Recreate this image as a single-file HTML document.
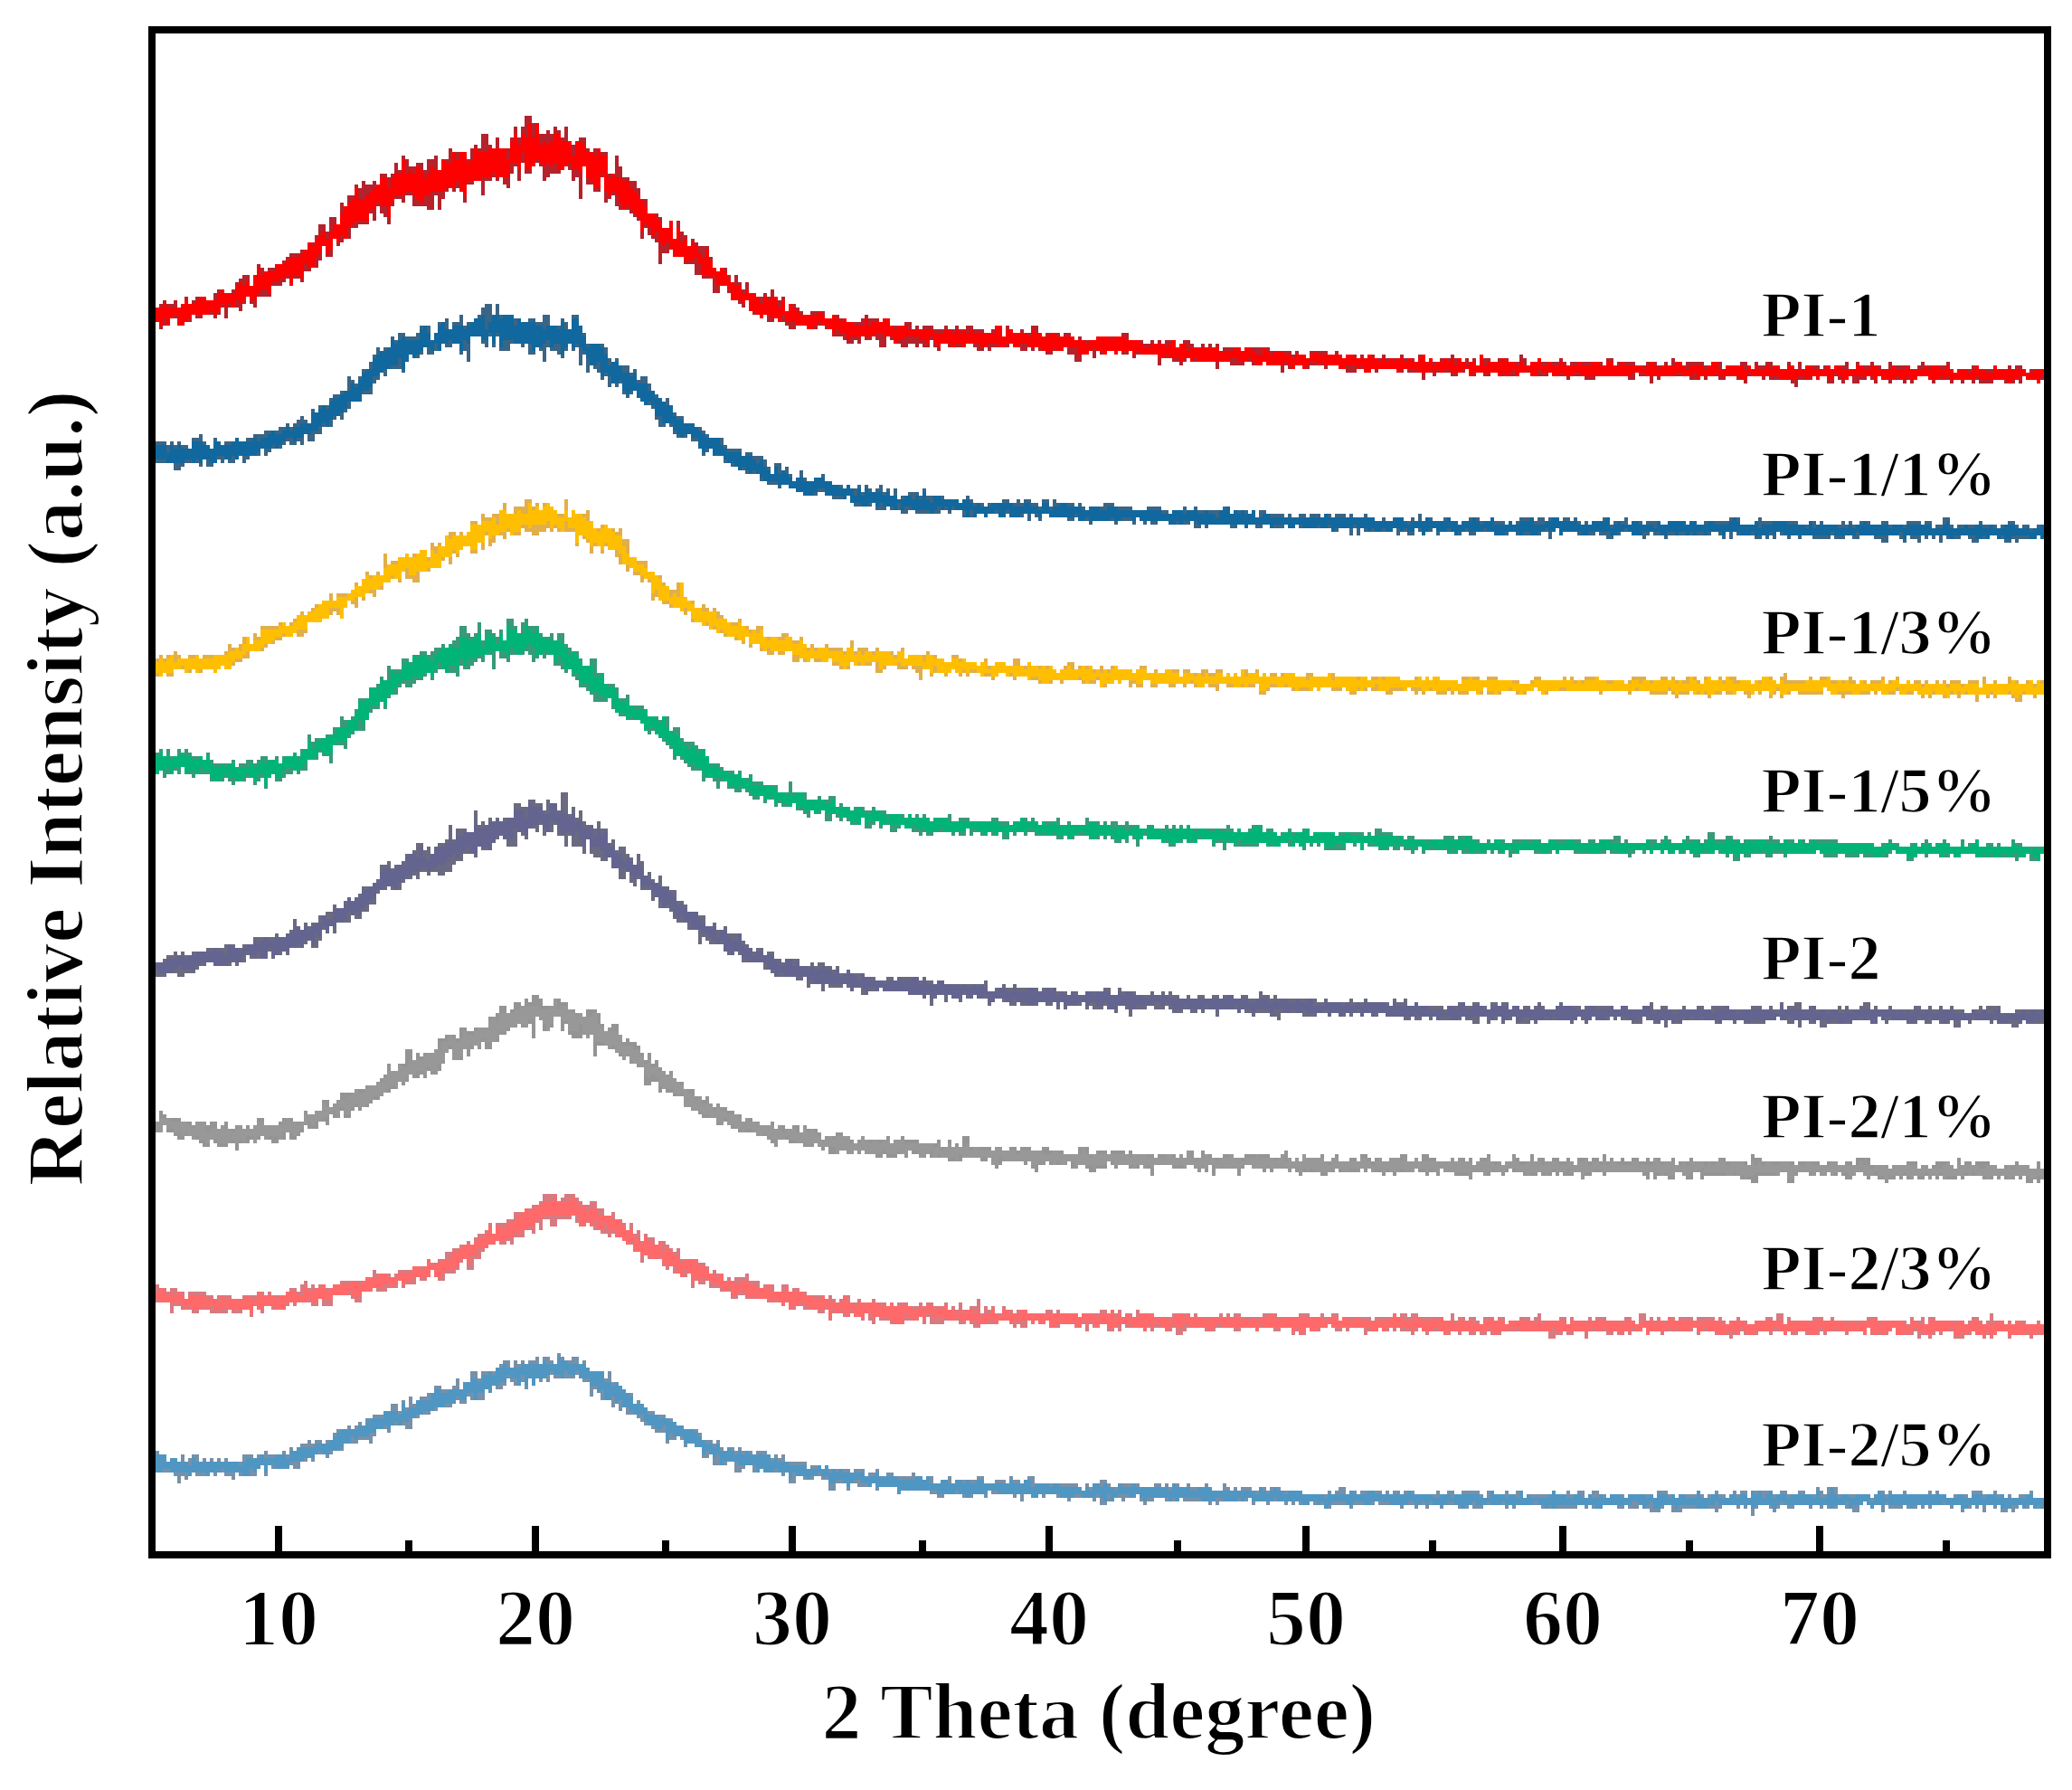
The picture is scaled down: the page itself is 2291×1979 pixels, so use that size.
<!DOCTYPE html>
<html><head><meta charset="utf-8"><title>XRD patterns</title>
<style>
html,body{margin:0;padding:0;background:#fff;}
body{width:2291px;height:1979px;overflow:hidden;}
svg{display:block;}
</style></head>
<body>
<svg width="2291" height="1979" viewBox="0 0 2291 1979">
<rect width="2291" height="1979" fill="#fff"/>
<g shape-rendering="crispEdges">
<path fill="#B4222C" d="M172 340h4v-4h4v-4h4v4h4h4v-4h4v8h4v-4h4v-8h4v8h4v-4h4v-4h4h4h4v4h4h4v-8h4v-4h4h4v4h4h4v-4h4v-8h4v-4h4v-4h4h4v12h4v-12h4v-12h4v4h4v4h4v-4h4h4v-4h4h4v-4h4v-4h4v-4h4h4h4v-4h4h4v-8h4h4v-8h4v-12h4h4v8h4v-16h4h4v8h4v-24h4v4h4v-12h4h4v-12h4v4h4v-8h4v4h4h4v-4h4v4h4v-12h4h4v4h4v-4h4v-12h4v8h4v-16h4v4h4v8h4h4v-4h4h4v8h4v-12h4h4v-4h4v16h4v-12h4h4v-12h4v4h4h4h4h4v8h4v-12h4v-4h4v4h4v-16h4h4v12h4v4h4v-12h4v12h4h4h4v-12h4v-12h4v12h4v-12h4v-12h4h4v8h4h4v12h4h4v-4h4v4h4v-8h4v4h4v8h4v-12h4v16h4v4h4v-4h4v-4h4h4v12h4v4h4v-4h4h4v4h4h4v24h4h4v-20h4v12h4v12h4h4v4h4h4v8h4v12h4h4v16h4h4h4v4h4v12h4h4v-8h4v20h4v-20h4v12h4v4h4v12h4v-8h4v4h4v4h4h4h4v12h4v12h4v4h4v-4h4h4v8h4v8h4v-8h4v8h4v8h4v-8h4v12h4h4v4h4h4v-4h4v4h4v-8h4v8h4v4h4v-4h4v16h4v-8h4h4v4h4v4h4v4h4h4v-4h4h4h4h4v8h4h4v-4h4h4v4h4h4v4h4h4h4h4v-4h4v-4h4v4h4h4h4v4h4v-4h4h4v8h4h4h4h4v-4h4h4v8h4v-4h4v4h4v-4h4h4h4v4h4h4h4v-4h4v4h4h4v-4h4v4h4h4v-4h4h4v4h4h4h4v4h4h4v-4h4v-4h4h4v12h4v-12h4v4h4v4h4h4v-4h4v4h4h4v-8h4h4v8h4v4h4v-4h4h4h4h4v4h4v-4h4h4v4h4v4h4v-4h4v4h4h4h4h4v-4h4h4h4h4h4h4h4v-4h4h4v8h4h4h4h4v4h4h4v-4h4v4h4v-4h4v4h4v-4h4h4h4v8h4v-4h4v-4h4h4v4h4v4h4h4v-4h4v4h4v-4h4v4h4v-4h4v8h4v-4h4h4h4h4h4v4h4v-4h4h4h4h4h4h4h4v4h4h4h4h4h4h4v4h4v-4h4v4h4h4v4h4v-8h4h4h4h4h4v4h4h4v-4h4v4h4v4h4v-4h4h4h4v4h4v-4h4v4h4v-4h4h4v4h4h4v-4h4v4h4h4h4h4v-4h4v4h4h4h4v4h4v-8h4h4v8h4v-4h4v4h4h4v-4h4h4h4v-4h4v4h4h4v4h4v-4h4v4h4v-4h4v8h4v-12h4v4h4h4v4h4h4v-4h4h4h4v4h4h4h4v-8h4v4h4v8h4v-4h4h4v-4h4v4h4h4h4h4h4v-4h4v4h4v4h4v-4h4h4h4h4h4h4h4h4h4v4h4v-8h4h4v8h4v-4h4h4h4h4h4v4h4h4h4v-4h4h4h4v4h4h4v-4h4v4h4v-8h4v4h4h4v4h4v-4h4h4h4h4h4v4h4h4v-4h4h4h4v8h4v-4h4h4h4h4v-4h4h4v4h4v4h4v-8h4v4h4h4v-4h4h4v4h4h4v4h4h4v-8h4v4h4v4h4v-8h4v8h4v-4h4h4h4h4v4h4v-4h4h4v4h4v-4h4h4h4v-4h4v8h4h4v-8h4v4h4h4h4v-4h4v4h4h4v4h4h4v-8h4v4h4h4h4h4h4v4h4h4v-4h4v-4h4v4h4h4h4h4h4h4v-4h4v8h4v4h4v-4h4h4h4h4v-4h4h4v4h4h4h4h4v-4h4v4h4h4h4v-4h4v4h4v-4h4h4v4h4v4h4v-4h4h4h4h4V420h-4v4h-4v-4h-4h-4h-4v-4h-4v8h-4v-4h-4v4h-4h-4h-4v-4h-4h-4h-4v4h-4h-4h-4h-4v-4h-4v4h-4v-4h-4h-4v4h-4v-4h-4h-4v4h-4v-4h-4h-4h-4h-4v4h-4v-4h-4v-4h-4h-4h-4v4h-4v4h-4v-4h-4v4h-4v-4h-4h-4h-4v4h-4v-4h-4h-4v-4h-4v8h-4v-4h-4v-4h-4v4h-4h-4v4h-4h-4v-8h-4v4h-4v4h-4v-4h-4v-4h-4v8h-4h-4v-8h-4h-4v4h-4v-4h-4v4h-4h-4h-4h-4v8h-4v-4h-4v-4h-4h-4h-4h-4h-4h-4v-4h-4v4h-4v-4h-4h-4h-4h-4v8h-4v-4h-4h-4v-4h-4h-4h-4v4h-4h-4v-4h-4h-4h-4v4h-4v-4h-4v4h-4h-4h-4v-4h-4h-4h-4h-4h-4h-4h-4h-4v4h-4v-4h-4v8h-4v-8h-4h-4h-4v-4h-4v8h-4h-4v-4h-4h-4h-4h-4h-4h-4h-4h-4h-4v4h-4h-4h-4v-4h-4h-4h-4h-4v4h-4v-4h-4h-4h-4h-4v-4h-4v4h-4h-4h-4h-4h-4v-4h-4h-4h-4v4h-4h-4h-4h-4h-4h-4v-4h-4h-4v4h-4h-4v-4h-4h-4v4h-4h-4v-8h-4v4h-4h-4v4h-4h-4v-4h-4h-4h-4h-4v4h-4v-4h-4h-4v8h-4v-8h-4h-4h-4h-4v-4h-4v4h-4h-4v-4h-4h-4h-4h-4h-4v4h-4v-4h-4v4h-4h-4v-4h-4h-4v4h-4h-4h-4v-4h-4h-4v-4h-4h-4h-4v4h-4v-4h-4h-4h-4h-4v4h-4h-4v-4h-4h-4v4h-4h-4v-4h-4v8h-4v-8h-4h-4h-4h-4v-4h-4v4h-4h-4h-4v-4h-4h-4v4h-4h-4h-4h-4v-4h-4h-4h-4v8h-4v-8h-4h-4h-4h-4h-4h-4h-4v-4h-4v4h-4v4h-4v-4h-4h-4v-4h-4h-4h-4v8h-4v-12h-4h-4h-4h-4h-4h-4v4h-4v-8h-4v4h-4h-4v-4h-4v4h-4v-4h-4h-4v4h-4h-4v-4h-4v8h-4v-8h-4v4h-4h-4v8h-4h-4v-8h-4h-4v-8h-4v4h-4h-4h-4v4h-4h-4v-4h-4h-4v-4h-4v4h-4v-4h-4v4h-4h-4v-4h-4h-4v-4h-4v4h-4h-4h-4h-4h-4v4h-4v-4h-4v4h-4h-4v-4h-4v-4h-4h-4v4h-4h-4h-4h-4h-4v-4h-4h-4v8h-4v-4h-4v-8h-4v8h-4h-4v-4h-4v4h-4v-4h-4h-4v4h-4h-4v-4h-4h-4v-4h-4v-4h-4v12h-4h-4v-8h-4v-4h-4v4h-4h-4v-4h-4v8h-4v-4h-4v4h-4h-4v-4h-4v-4h-4h-4h-4v-8h-4h-4v-4h-4h-4v4h-4h-4h-4v-4h-4h-4h-4v4h-4h-4v-4h-4v-4h-4h-4v-4h-4v4h-4h-4v-8h-4v4h-4v-4h-4h-4v-4h-4v-12h-4v8h-4v-4h-4v-4h-4h-4v-8h-4v-8h-4h-4v8h-4h-4v-16h-4h-4h-4v-4h-4h-4v-12h-4h-4h-4v-8h-4h-4h-4v-8h-4v4h-4h-4v12h-4v-24h-4v-4h-4v-4h-4v-8h-4v12h-4v-20h-4v-4h-4v-4h-4v-4h-4h-4h-4v-4h-4v-12h-4v4h-4v4h-4v-28h-4v16h-4h-4v-8h-4h-4v-20h-4v36h-4v-24h-4v4h-4v-12h-4v-4h-4v4h-4v4h-4h-4h-4v4h-4v4h-4v-16h-4v-4h-4v4h-4v8h-4h-4v-12h-4v20h-4v-16h-4v8h-4v16h-4v-4h-4v-8h-4v4h-4v-4h-4v4h-4h-4v16h-4v-16h-4h-4v4h-4h-4v20h-4v-12h-4v-4h-4v4h-4v-4h-4v4h-4v8h-4v12h-4v-16h-4v16h-4h-4v-4h-4h-4h-4h-4v-12h-4h-4v8h-4v-4h-4h-4v8h-4v20h-4v-8h-4v-4h-4v-8h-4v16h-4v-8h-4v12h-4h-4h-4v4h-4h-4v12h-4h-4v4h-4v4h-4v-8h-4v20h-4h-4v-12h-4v16h-4v8h-4h-4v4h-4h-4v12h-4v-4h-4h-4v8h-4v-8h-4v4h-4v4h-4h-4h-4v12h-4h-4h-4h-4v12h-4v-4h-4v-8h-4v8h-4v8h-4v-4h-4h-4h-4v12h-4v-12h-4v8h-4v4h-4v-4h-4h-4h-4v4h-4h-4v-4h-4v8h-4h-4v4h-4h-4v-8h-4h-4v8h-4h-4v4h-4v-8h-4z"/>
<path fill="#FF0000" d="M172 340h4h4v-4h4v4h4h4h4h4v-4h4v-4h4v4h4h4v-4h4v-4h4h4v4h4h4h4v-8h4v-4h4v4h4h4h4v-8h4v-4h4v4h4v-4h4v4h4v-12h4v-8h4v8h4v-4h4h4h4v-8h4h4h4v-4h4v-4h4h4h4v-4h4v-4h4v-8h4v4h4v-8h4v-4h4v-4h4v8h4v-8h4v-8h4h4v-12h4v-8h4v-4h4v-4h4v-12h4v12h4h4v-4h4v-4h4v-4h4v-4h4v-8h4h4v12h4v-12h4v-4h4h4v-16h4v16h4v-4h4v4h4v-8h4v4h4v8h4v-4h4v-8h4v4h4h4v-12h4v4h4h4v-12h4v8h4v-8h4h4v12h4v-4h4v-12h4v4h4h4h4v-4h4h4h4h4h4v12h4v-20h4v-8h4v12h4v-12h4v4h4v-16h4v16h4v-16h4v24h4v-4h4v4h4v-4h4v-8h4h4v8h4h4h4v16h4v-16h4h4v4h4v8h4h4v4h4v-8h4v8h4h4v24h4v-4h4v4h4h4v4h4h4v8h4v4h4v4h4v4h4v8h4v8h4h4v4h4v4h4v8h4h4v-8h4v20h4v-12h4v16h4v-4h4v8h4v-4h4v4h4v8h4v4h4v-8h4v12h4v8h4v4h4v-4h4v4h4v8h4v4h4v4h4h4v8h4v-4h4v4h4h4v4h4v8h4v-8h4v4h4v-4h4h4v12h4v-8h4v12h4v-8h4v4h4v4h4v4h4h4h4h4h4v-4h4v4h4v4h4h4v-4h4v4h4v4h4v-4h4v4h4h4v4h4h4h4v-8h4v8h4v-4h4h4h4v-4h4h4v8h4v4h4v-4h4h4h4v4h4h4h4h4h4h4h4v4h4h4h4v-4h4h4v4h4v-4h4v4h4v-4h4v4h4v-4h4v4h4h4h4h4h4h4v-8h4h4v12h4v-8h4h4v4h4h4h4h4v4h4v-8h4v4h4h4v4h4h4v-4h4h4v4h4h4h4h4h4v4h4h4h4v4h4v-4h4h4v-4h4h4h4h4v4h4v-4h4h4h4v4h4h4h4h4v4h4v4h4h4v-4h4h4h4h4v4h4v-4h4v-4h4v8h4v-4h4h4v8h4v-4h4h4h4h4h4h4h4h4v4h4h4h4h4v-4h4h4v4h4v-4h4h4v4h4v4h4h4v-8h4v4h4v4h4v-4h4h4h4v4h4h4v4h4v-4h4h4h4v4h4v-4h4v-4h4v4h4h4h4h4h4h4h4v4h4v-4h4h4v4h4h4h4h4v-4h4v4h4h4v4h4v-4h4v4h4v-4h4v4h4v-4h4h4v4h4v-4h4v4h4h4v-4h4v-4h4v8h4v-4h4v8h4v-4h4h4v-4h4v4h4v-4h4v8h4v-8h4v4h4v4h4v-4h4h4v4h4v-12h4v12h4v-4h4h4h4h4v-4h4v4h4h4h4v4h4v-4h4v4h4h4v-4h4h4v-4h4v8h4h4v-4h4v4h4h4v-4h4v4h4h4h4h4v-4h4v4h4h4h4v-4h4h4v4h4h4v-4h4h4v4h4h4v-4h4v4h4h4h4h4h4v4h4v-4h4v-4h4v4h4v4h4v-4h4h4h4h4v-4h4h4v4h4v4h4v-4h4h4h4h4v4h4v-4h4v-4h4h4v8h4h4v-4h4h4h4h4h4v4h4v-4h4v4h4v-4h4v4h4h4v-4h4v4h4v-4h4h4v4h4h4v-4h4h4v4h4h4h4v-4h4h4v4h4h4h4h4v-4h4v4h4v-4h4h4v4h4h4h4h4v-4h4h4v4h4h4v-4h4h4v4h4h4h4h4v-4h4v4h4h4h4v-4h4v4h4h4h4h4v-4h4v4h4v-4h4h4v4h4h4v-4h4v4h4v4h4v-4h4h4h4v4h4v-4h4v-4h4v4h4h4v4h4h4v-8h4v4h4h4h4h4h4h4h4h4v4h4h4v-4h4h4h4V416h-4v8h-4v-4h-4h-4h-4v-4h-4h-4v4h-4h-4v4h-4v-4h-4h-4h-4h-4h-4h-4h-4h-4v-4h-4v4h-4h-4h-4h-4h-4h-4h-4v-4h-4v4h-4v-4h-4v4h-4h-4h-4v-4h-4h-4h-4v4h-4h-4v-4h-4v4h-4h-4v-4h-4v4h-4h-4h-4h-4v-4h-4v4h-4v-4h-4h-4h-4h-4h-4h-4h-4v4h-4h-4v-4h-4v-4h-4v8h-4h-4v-4h-4h-4v4h-4v-4h-4h-4v4h-4v-4h-4h-4v4h-4h-4h-4h-4h-4v-4h-4h-4h-4h-4h-4h-4h-4h-4v-4h-4v8h-4h-4v-4h-4h-4h-4h-4h-4h-4v-4h-4v4h-4h-4h-4h-4v4h-4v-8h-4v4h-4h-4h-4v-4h-4h-4v4h-4h-4h-4h-4h-4h-4h-4h-4v-4h-4h-4h-4h-4v4h-4h-4h-4h-4h-4h-4h-4h-4h-4h-4h-4h-4h-4h-4v-4h-4h-4v4h-4h-4h-4v-4h-4v4h-4h-4v-4h-4h-4h-4v-4h-4v8h-4h-4v-8h-4v4h-4h-4v4h-4v-8h-4v4h-4v4h-4v-4h-4v4h-4v-4h-4h-4h-4h-4h-4h-4h-4v4h-4v-8h-4h-4v4h-4h-4h-4v-4h-4h-4v4h-4v-4h-4v4h-4v-4h-4v4h-4h-4h-4v-4h-4h-4h-4h-4h-4v4h-4v-4h-4h-4h-4h-4h-4h-4h-4v4h-4h-4v-8h-4v4h-4v-4h-4h-4h-4v4h-4h-4v-4h-4h-4h-4h-4v-4h-4v4h-4v-4h-4h-4v4h-4v4h-4v-4h-4h-4v4h-4v-4h-4v-4h-4v4h-4h-4h-4h-4h-4v-4h-4v4h-4h-4v-4h-4v-4h-4v4h-4h-4h-4v-4h-4h-4v4h-4h-4h-4h-4h-4h-4h-4h-4h-4v-4h-4v4h-4v-4h-4h-4v4h-4v-4h-4h-4h-4v-4h-4v4h-4h-4v-4h-4h-4h-4h-4h-4v-4h-4v4h-4v-4h-4h-4h-4h-4v4h-4v-4h-4h-4v4h-4v-4h-4h-4v-4h-4v4h-4v4h-4h-4h-4v-8h-4h-4h-4h-4v4h-4h-4v-4h-4v4h-4h-4h-4v-4h-4h-4h-4h-4v-4h-4h-4v4h-4h-4v-4h-4h-4v4h-4h-4v-4h-4h-4h-4v4h-4h-4v-4h-4h-4h-4h-4v4h-4v-4h-4h-4v4h-4v-4h-4h-4h-4v4h-4v-4h-4v-8h-4v8h-4v-4h-4h-4v-4h-4h-4h-4h-4v4h-4h-4v4h-4v-8h-4h-4h-4v-4h-4h-4v4h-4h-4h-4h-4h-4h-4h-4v4h-4v-8h-4h-4v-4h-4v4h-4v-4h-4v-4h-4h-4v-4h-4v4h-4v4h-4h-4v-4h-4h-4h-4v-4h-4h-4h-4v-8h-4v8h-4v-4h-4h-4v-4h-4h-4v4h-4v-4h-4v-4h-4h-4v-12h-4v4h-4v-4h-4h-4h-4v-12h-4v-4h-4h-4h-4v-12h-4v4h-4v-4h-4h-4v-12h-4v-8h-4v4h-4h-4h-4v-4h-4h-4h-4v-8h-4v-8h-4v4h-4v-4h-4v-12h-4v4h-4v-8h-4v-4h-4v8h-4v-16h-4v-4h-4v-4h-4v-4h-4v4h-4v-8h-4v-8h-4v-4h-4v4h-4v-4h-4v-20h-4v16h-4h-4v-8h-4v-4h-4v-12h-4v8h-4v-4h-4h-4v-8h-4v4h-4v4h-4h-4v-8h-4v4h-4v-4h-4v4h-4v-4h-4v-4h-4v8h-4v4h-4h-4v-20h-4v20h-4v-8h-4h-4v16h-4h-4h-4h-4v-4h-4v4h-4h-4h-4v4h-4h-4h-4h-4v16h-4v-4h-4v-12h-4v8h-4h-4h-4v4h-4h-4h-4h-4v4h-4h-4v8h-4v-4h-4v-4h-4v-4h-4h-4v4h-4h-4h-4v8h-4v16h-4v-12h-4h-4v-4h-4v8h-4h-4v12h-4h-4h-4h-4v4h-4v4h-4v12h-4v-4h-4v8h-4v-4h-4v12h-4v4h-4v-8h-4v8h-4v4h-4v12h-4h-4v-4h-4v16h-4v-4h-4h-4v12h-4v-12h-4v4h-4h-4v4h-4h-4v12h-4v-4h-4h-4v4h-4v8h-4h-4v-4h-4v4h-4v4h-4v-4h-4v8h-4v-4h-4v4h-4v-4h-4v8h-4v4h-4v-4h-4v4h-4h-4h-4h-4h-4v4h-4v4h-4v4h-4h-4v-12h-4v4h-4v8h-4v-8h-4v8h-4v-4h-4z"/>
<path fill="#3A6585" d="M172 488h4h4h4v4h4v-4h4v4h4v-4h4v4h4h4v4h4v-12h4h4v-4h4v8h4v4h4v4h4v-12h4v4h4v4h4v-4h4h4h4v-4h4v4h4h4v-4h4h4v-4h4h4h4v-4h4h4h4h4v-4h4h4v-4h4v4h4v-4h4v-4h4v-4h4v4h4v4h4v-16h4v4h4v-8h4h4h4v-8h4v-4h4h4v-4h4h4v-16h4v4h4v4h4v-8h4v-8h4h4v-8h4v-8h4v-8h4v4h4v-4h4h4v-12h4v4h4v-8h4h4v4h4h4h4v-4h4v-8h4h4h4v16h4v-8h4v-12h4h4v-4h4v12h4v-8h4h4v-8h4v12h4v-4h4h4v-4h4v-4h4v-8h4v-4h4h4v12h4v-12h4v12h4h4h4h4v4h4h4v4h4h4v-4h4h4v4h4h4v-8h4h4v12h4h4h4v-8h4v4h4v8h4v-16h4h4v12h4v8h4v12h4h4h4h4h4v4h4v12h4v4h4v-4h4v8h4h4h4v8h4v-4h4v12h4v-4h4h4v8h4v8h4v4h4v4h4v4h4v-4h4v8h4v8h4v4h4h4v8h4h4h4v4h4h4v4h4v4h4v4h4h4h4h4v8h4v4h4h4h4h4v8h4v-4h4h4v4h4h4h4v4h4v8h4v8h4v-12h4h4v8h4v-4h4v8h4v8h4v-4h4v-8h4v8h4v4h4h4v-4h4h4v-4h4v8h4h4v4h4h4h4v4h4v-4h4v4h4h4v-4h4v8h4v-8h4v4h4v4h4v-4h4v-4h4v8h4v-4h4v8h4v-8h4v12h4v-4h4h4v-4h4h4h4v4h4v-8h4v8h4h4h4h4h4v4h4h4h4h4v4h4v-4h4v-4h4v4h4v4h4h4h4v4h4v-4h4h4h4h4v-4h4h4v4h4h4v-4h4v4h4v-4h4h4v4h4h4v4h4v-8h4h4v8h4v-8h4v4h4h4h4h4h4v4h4v-4h4v4h4v4h4v-4h4h4h4h4v-4h4h4h4v4h4h4h4h4h4v4h4h4h4h4v-4h4h4h4h4v4h4h4v4h4v-4h4h4h4v-4h4v4h4h4v-4h4v4h4h4h4h4h4h4h4v-4h4h4v8h4v-4h4h4h4h4v4h4v-4h4v8h4v-8h4h4v4h4h4h4h4h4v4h4v-4h4v4h4h4v-4h4h4v4h4v-4h4h4h4v4h4v-4h4h4v4h4v-4h4h4h4v4h4v-4h4v4h4h4h4v-4h4v4h4h4v4h4h4v-4h4v4h4h4v-4h4h4h4v4h4h4v-4h4v4h4v-8h4v8h4v-4h4h4v4h4h4h4v-4h4h4v4h4h4v4h4v-4h4h4v-4h4h4h4v4h4h4h4v-4h4v4h4h4h4v4h4v-4h4v4h4v-4h4v-4h4h4h4h4v4h4v-4h4h4v4h4v-4h4h4h4v4h4v-4h4h4v4h4v-4h4v4h4v4h4v-4h4v4h4v-4h4h4h4v-4h4h4v8h4v-4h4h4h4v-4h4v8h4v-4h4h4h4v4h4v-4h4h4h4h4v4h4h4v-4h4h4h4h4h4v4h4v-4h4h4v4h4h4v-4h4h4h4h4h4h4h4v-4h4h4h4v8h4h4h4h4v-4h4v-4h4v4h4h4h4h4h4h4h4h4h4h4v4h4h4h4v-4h4h4v4h4v-4h4v4h4h4h4h4h4v-4h4v4h4v-4h4v4h4h4v-4h4h4h4v4h4h4h4v-4h4h4v4h4h4h4h4h4v-4h4h4h4h4v4h4v-4h4h4v8h4v-4h4h4v-8h4h4v8h4v4h4v-4h4h4h4h4h4h4v-4h4v4h4h4h4h4v4h4v-4h4h4v-4h4h4v4h4v4h4v-4h4h4v4h4h4v-4h4h4V596h-4v-4h-4v4h-4h-4h-4h-4h-4v4h-4v-4h-4v4h-4h-4v-4h-4h-4v-4h-4h-4v4h-4h-4h-4v4h-4h-4v-4h-4v-4h-4h-4v4h-4h-4h-4h-4v-4h-4v8h-4v-8h-4v4h-4v-4h-4v4h-4v-4h-4v8h-4v-4h-4h-4v-4h-4v8h-4v-4h-4v-4h-4h-4h-4v8h-4h-4v-4h-4h-4v-4h-4h-4h-4h-4v4h-4h-4v-4h-4h-4v4h-4h-4h-4v-4h-4v4h-4h-4h-4h-4h-4v-4h-4h-4h-4v4h-4v-4h-4h-4v4h-4v-4h-4h-4v-4h-4v8h-4v-4h-4v4h-4v-4h-4v4h-4h-4v-4h-4h-4h-4h-4h-4v-4h-4v8h-4v-8h-4v8h-4v-4h-4v-4h-4h-4v4h-4h-4h-4h-4h-4h-4h-4h-4h-4h-4h-4h-4v4h-4v-4h-4h-4h-4v-4h-4v4h-4v4h-4v-4h-4h-4h-4v-4h-4h-4h-4v4h-4h-4v4h-4h-4v-4h-4h-4v-4h-4v4h-4h-4h-4h-4h-4v-4h-4h-4h-4h-4v4h-4v-8h-4v4h-4v8h-4v-8h-4h-4v4h-4h-4h-4h-4h-4h-4h-4v-4h-4h-4v4h-4h-4h-4h-4v-4h-4h-4h-4h-4h-4v4h-4h-4v-4h-4h-4v4h-4h-4v-4h-4h-4h-4h-4v4h-4v-8h-4v4h-4h-4v4h-4v-4h-4v-4h-4v8h-4h-4v-4h-4h-4v4h-4v-8h-4v4h-4h-4h-4h-4h-4h-4h-4h-4v-4h-4v8h-4v-8h-4v8h-4v-8h-4h-4h-4v4h-4h-4v-4h-4h-4h-4h-4h-4h-4h-4h-4h-4v-4h-4v4h-4h-4v-4h-4v4h-4h-4h-4h-4v-4h-4h-4v4h-4h-4v-4h-4h-4v4h-4v-4h-4h-4v4h-4h-4v-4h-4h-4h-4h-4h-4h-4v4h-4v-4h-4v4h-4h-4v-8h-4v4h-4h-4h-4h-4h-4h-4v-4h-4h-4h-4v4h-4h-4v-4h-4v4h-4v-4h-4v-4h-4v8h-4v-4h-4h-4h-4h-4v4h-4v-4h-4h-4h-4h-4h-4h-4v4h-4v-4h-4h-4h-4v-4h-4v4h-4h-4v-4h-4h-4h-4h-4h-4v-4h-4h-4v8h-4v-4h-4v-4h-4v8h-4v-8h-4v4h-4h-4h-4h-4v-4h-4v4h-4h-4v-4h-4h-4h-4v4h-4v-4h-4h-4v4h-4h-4h-4h-4v-8h-4h-4h-4v4h-4v-4h-4h-4v4h-4h-4h-4h-4h-4h-4h-4v-4h-4h-4v4h-4h-4v-4h-4h-4h-4v-4h-4v4h-4h-4h-4v-8h-4v4h-4h-4h-4h-4h-4v-4h-4v-8h-4v4h-4h-4h-4h-4v-4h-4h-4v-4h-4h-4v4h-4h-4h-4h-4v-4h-4h-4v-4h-4h-4v-4h-4h-4v4h-4v-4h-4h-4h-4v-4h-4h-4v-8h-4h-4h-4h-4v-4h-4h-4v-4h-4h-4v-4h-4h-4v-8h-4h-4h-4v-8h-4v4h-4v4h-4v-8h-4v-8h-4h-4v-8h-4v4h-4h-4h-4v-4h-4v-8h-4v-4h-4v4h-4h-4v-8h-4v-12h-4v-4h-4h-4v-4h-4v-4h-4v-8h-4v4h-4v4h-4v-4h-4v-12h-4v4h-4v-4h-4v4h-4v-12h-4v4h-4v-8h-4v-4h-4v-4h-4v8h-4v-20h-4v12h-4v-20h-4v4h-4v-8h-4v8h-4v8h-4v-4h-4v-4h-4h-4v-4h-4v16h-4v-12h-4v-4h-4v8h-4h-4v-12h-4v4h-4v-4h-4h-4h-4v8h-4h-4h-4v-16h-4v12h-4v-12h-4v12h-4v-4h-4v-8h-4h-4h-4v28h-4v-12h-4v4h-4v-12h-4h-4v4h-4h-4v-4h-4v8h-4h-4v4h-4h-4v-8h-4v8h-4v4h-4h-4v-4h-4v8h-4v12h-4v-4h-4h-4h-4h-4v8h-4v-4h-4v8h-4v4h-4v12h-4h-4h-4v8h-4h-4h-4v8h-4v4h-4v8h-4v-4h-4v4h-4v8h-4h-4h-4v8h-4h-4v8h-4h-4v-8h-4v12h-4v-4h-4v4h-4h-4v-4h-4v4h-4v4h-4h-4h-4v4h-4v4h-4v-8h-4v8h-4h-4h-4v4h-4v4h-4v-8h-4v4h-4v4h-4h-4v-4h-4v4h-4v-4h-4v4h-4v4h-4h-4v-8h-4v8h-4v-4h-4h-4h-4h-4v4h-4v4h-4h-4v-8h-4h-4h-4h-4h-4z"/>
<path fill="#10689E" d="M172 492h4h4h4v8h4v-8h4v4h4v-4h4v4h4h4h4v-8h4h4h4v4h4h4v4h4v-8h4h4v4h4h4h4v-4h4v-4h4v4h4h4h4h4v-4h4v4h4v-4h4h4v-4h4v-4h4v4h4h4v-4h4v-4h4v4h4v-4h4h4v-4h4h4h4v-12h4h4v-4h4v-4h4v4h4v-8h4v-4h4h4v-4h4v-4h4h4v-8h4v4h4v-8h4v-8h4v-4h4h4v-12h4v-4h4v-4h4h4v-4h4v-8h4v4h4v-4h4v-4h4v4h4h4h4h4v-12h4v-4h4v8h4v8h4v-8h4v-8h4v-4h4v8h4h4v-4h4h4h4v4h4v-4h4v-4h4v-4h4h4v-4h4v16h4v-8h4v-8h4h4v4h4v-4h4h4h4v12h4v-8h4v4h4h4h4h4v4h4h4v4h4v-4h4h4h4v4h4v-8h4v8h4h4v-12h4h4v8h4v12h4v12h4v-4h4h4h4v4h4v8h4v12h4v-4h4h4v4h4v8h4h4v4h4v-4h4v12h4h4h4v8h4h4v8h4h4v4h4v4h4h4v12h4v4h4h4v4h4h4h4v4h4v4h4v4h4v4h4h4h4h4v8h4v4h4v4h4h4h4h4v4h4h4h4v4h4v4h4v-4h4v8h4v4h4v4h4v-8h4v8h4v-4h4v4h4v4h4v4h4v-4h4h4v4h4h4h4v-4h4h4h4v4h4h4v4h4h4v4h4h4v-4h4v4h4v8h4v-8h4v8h4v-8h4v4h4h4h4h4v4h4v-4h4v4h4h4v4h4h4v-4h4h4v4h4v-4h4v4h4v-8h4v8h4v4h4v-8h4h4v4h4h4h4h4h4v4h4v-4h4h4v4h4v4h4v-4h4v4h4h4h4v-4h4h4h4h4h4h4v4h4h4h4v-4h4h4v4h4h4v4h4v-8h4h4v8h4v-4h4h4v-4h4h4v4h4h4h4h4v4h4h4v-4h4h4h4v4h4h4v-4h4h4h4v4h4h4h4h4h4h4h4h4h4h4h4h4v4h4h4h4v-4h4h4h4v4h4v-4h4h4h4v4h4h4v-4h4v4h4h4v4h4v-8h4h4v-4h4v8h4v-4h4v4h4v-4h4v4h4h4v-4h4v8h4h4v-4h4h4v4h4h4h4h4h4h4h4h4h4h4h4h4h4h4h4v-4h4v4h4h4h4h4h4h4h4h4h4h4h4h4h4v4h4h4h4h4h4v-4h4h4h4v4h4v4h4v-4h4h4h4h4v-4h4v4h4h4h4h4h4v-4h4v4h4h4v4h4v-4h4h4h4v-4h4v4h4v4h4v-4h4h4v-4h4v8h4h4h4h4v-4h4v4h4h4v-4h4h4h4v-4h4v8h4h4h4v-4h4h4v-4h4h4v4h4h4h4h4h4v4h4h4h4h4v-4h4h4h4h4v-4h4v12h4v-4h4v-4h4v4h4h4h4v-4h4h4v4h4h4h4h4v4h4v-8h4v4h4h4v-4h4h4h4h4h4v4h4v-4h4h4v4h4h4h4v-4h4h4v4h4h4h4h4v-4h4v-4h4v4h4v4h4h4h4h4v-4h4v8h4v-4h4h4h4v-4h4h4h4h4v4h4h4h4h4h4v4h4v-8h4v8h4v-4h4h4h4h4h4h4v4h4h4h4v-4h4v4h4v-4h4h4v-4h4v4h4h4h4h4h4h4v4h4v-4h4h4h4v4h4v-4h4h4h4h4h4h4h4v4h4h4h4v-4h4v-4h4v8h4h4h4h4v-4h4v4h4h4v-4h4h4v4h4h4v-4h4v4h4h4h4v-4h4h4h4v4h4h4h4h4v4h4v-4h4h4v-4h4V596h-4v-4h-4v4h-4h-4v-4h-4h-4h-4h-4h-4v4h-4h-4v-4h-4v4h-4v-4h-4h-4v4h-4v-4h-4v4h-4h-4v-4h-4h-4h-4h-4h-4h-4v4h-4v-4h-4h-4h-4h-4h-4h-4h-4h-4h-4h-4h-4h-4v4h-4v-8h-4v4h-4h-4h-4h-4h-4h-4h-4h-4h-4h-4h-4v-4h-4v4h-4h-4h-4h-4h-4h-4v-4h-4v4h-4h-4h-4h-4h-4h-4h-4h-4h-4h-4h-4h-4h-4v-4h-4h-4v4h-4v-4h-4v4h-4h-4h-4h-4v-4h-4v4h-4h-4h-4v-4h-4h-4h-4h-4v4h-4v-4h-4h-4h-4h-4v4h-4v-4h-4h-4v4h-4v-4h-4v4h-4v-4h-4h-4v4h-4v-4h-4h-4v4h-4h-4v-4h-4h-4h-4h-4h-4v4h-4h-4h-4v-4h-4v-4h-4v4h-4h-4v4h-4h-4v-4h-4h-4h-4h-4h-4h-4v4h-4h-4v-4h-4h-4h-4h-4h-4v4h-4v-8h-4v4h-4h-4v-4h-4v4h-4h-4v4h-4h-4v-4h-4h-4v4h-4v-4h-4h-4h-4h-4v4h-4h-4h-4v-4h-4h-4v-4h-4v4h-4h-4h-4h-4v-4h-4v4h-4h-4v4h-4v-4h-4v-4h-4v4h-4h-4h-4v-4h-4h-4v4h-4v4h-4v-8h-4h-4v4h-4h-4v-4h-4v4h-4v-4h-4h-4v4h-4h-4v-4h-4v4h-4h-4v-4h-4v4h-4v-4h-4h-4h-4v-4h-4v4h-4h-4h-4h-4h-4v4h-4v-8h-4v4h-4h-4v-4h-4v4h-4h-4h-4h-4v-4h-4h-4v4h-4h-4v-4h-4h-4h-4h-4v4h-4v-4h-4h-4h-4h-4h-4h-4v4h-4v-4h-4h-4h-4h-4h-4h-4h-4h-4h-4h-4h-4h-4h-4v-4h-4h-4h-4h-4v4h-4v-4h-4v4h-4h-4v-4h-4h-4h-4h-4h-4h-4h-4h-4v-4h-4v4h-4v-4h-4h-4h-4v4h-4h-4v-4h-4v4h-4h-4h-4h-4h-4h-4v-4h-4v4h-4h-4v-8h-4v4h-4h-4h-4h-4h-4h-4h-4v-4h-4h-4v4h-4v-4h-4h-4h-4h-4h-4v4h-4h-4h-4v-8h-4v8h-4h-4v-8h-4v4h-4h-4v4h-4v-4h-4h-4v4h-4v-8h-4v8h-4v-8h-4h-4h-4v-4h-4v4h-4v-4h-4v4h-4v-4h-4v4h-4v4h-4v-4h-4h-4h-4h-4h-4v-4h-4h-4v4h-4v-8h-4v8h-4v-4h-4h-4h-4v-4h-4v4h-4v-4h-4h-4v4h-4h-4v-4h-4h-4h-4v-8h-4v4h-4v-4h-4h-4h-4h-4h-4v-8h-4h-4v4h-4v4h-4h-4h-4v-4h-4h-4v-4h-4h-4v-4h-4h-4h-4v-4h-4h-4h-4h-4v-4h-4v-4h-4v-4h-4v4h-4v-4h-4v-4h-4v4h-4v-4h-4v-4h-4h-4v-4h-4v-4h-4h-4h-4v-8h-4h-4v4h-4v-4h-4v-12h-4h-4v-4h-4h-4v4h-4v-4h-4v-4h-4v-8h-4h-4h-4v-8h-4h-4v-12h-4v-4h-4v4h-4v-4h-4v-4h-4v-8h-4h-4v4h-4v-4h-4v-12h-4v4h-4h-4v-8h-4v-4h-4v4h-4v-16h-4v4h-4h-4v-8h-4v-8h-4v-4h-4v-4h-4v4h-4v-4h-4v4h-4v8h-4v-12h-4h-4v4h-4v-8h-4v4h-4v4h-4h-4v4h-4v-8h-4h-4h-4h-4h-4v-4h-4h-4h-4v8h-4v-16h-4v12h-4v-12h-4v8h-4h-4v-4h-4h-4h-4v8h-4v-4h-4v12h-4v-8h-4h-4v-4h-4v4h-4h-4v8h-4v-8h-4v8h-4v-4h-4h-4v4h-4v4h-4v4h-4v-4h-4v8h-4v8h-4v-12h-4v8h-4h-4v4h-4h-4v4h-4v4h-4h-4v12h-4v4h-4h-4v12h-4h-4h-4h-4v8h-4v4h-4v4h-4h-4v4h-4v8h-4v-4h-4v4h-4v4h-4h-4v4h-4h-4v4h-4h-4v4h-4v-4h-4h-4v4h-4v4h-4v4h-4v-4h-4v4h-4h-4h-4v4h-4v4h-4h-4h-4h-4h-4v4h-4v-4h-4v4h-4h-4v-4h-4h-4v8h-4h-4v-4h-4h-4v4h-4v-4h-4v4h-4v-4h-4h-4v4h-4h-4h-4h-4h-4v-4h-4h-4h-4z"/>
<path fill="#E2AE4A" d="M172 728h4v-4h4v4h4v-4h4h4v-4h4v4h4v4h4h4v-4h4h4h4v4h4v-4h4h4h4h4h4h4v-4h4v-8h4v4h4h4v-4h4v-8h4h4v8h4v-12h4v4h4v-12h4h4h4h4h4v-4h4h4v4h4v-4h4v-4h4v-4h4v-4h4v4h4v-4h4v-4h4v-4h4h4v-4h4h4v-8h4v8h4v-8h4h4h4h4v-4h4v-8h4v4h4v-8h4v-8h4v4h4h4v-4h4v4h4v-24h4v12h4v-4h4h4v-4h4h4v-4h4v4h4v-4h4h4v-4h4h4v8h4v-16h4v4h4v-4h4v4h4v-12h4v-4h4h4v4h4v-4h4v4h4v-4h4v-12h4h4v4h4v-12h4v4h4h4v-4h4h4v-4h4v-8h4v12h4h4v-8h4h4h4v-8h4h4v8h4v-4h4v8h4v-8h4h4v4h4v4h4v4h4h4v-16h4v20h4v-8h4v4h4h4h4v-4h4v12h4v8h4h4v-4h4h4v4h4h4v4h4v-4h4v12h4h4v20h4h4v4h4h4h4v12h4h4v4h4h4v8h4v4h4v4h4h4v-8h4h4v16h4v4h4h4v8h4h4v-4h4v4h4v4h4v-4h4v4h4v4h4v4h4v4h4h4h4v-4h4v8h4h4v4h4h4v-4h4h4v12h4h4h4h4h4v-4h4h4v4h4v4h4h4v-4h4v8h4v4h4v-4h4v4h4h4h4v-4h4v4h4h4h4h4v4h4v-4h4v-8h4v12h4v-4h4h4h4v4h4h4v-4h4v4h4h4h4h4v4h4v-4h4v-4h4v12h4v-4h4h4h4h4h4v-4h4v4h4h4v4h4h4v4h4h4v-8h4h4v4h4h4v4h4h4h4v4h4v-4h4v-4h4v8h4h4v-4h4h4h4v4h4h4v-8h4h4v8h4h4v-4h4v4h4h4h4h4h4h4v4h4v4h4v-4h4v-4h4v-4h4h4v8h4v-4h4h4h4h4v4h4h4v-4h4v4h4h4v-4h4h4v4h4h4h4h4v4h4v-4h4v-4h4h4v8h4h4v-4h4v4h4h4v-4h4h4h4h4v8h4v-8h4h4v4h4h4h4v-4h4h4v4h4h4v-4h4h4v8h4v-4h4v4h4v-4h4v4h4v-8h4h4v4h4h4v-4h4v8h4v-4h4v4h4v-4h4h4v4h4v-4h4h4h4h4v4h4h4h4v-4h4h4v4h4h4h4h4v-4h4h4v4h4h4h4h4h4h4h4h4h4v4h4v-4h4h4h4h4h4h4h4h4v4h4h4h4h4v-4h4h4v4h4v-4h4v4h4v-4h4h4v4h4h4h4h4h4v4h4v-8h4h4h4h4h4v4h4h4v-4h4h4h4v4h4h4h4h4h4h4v4h4h4h4v-4h4v-4h4h4v4h4h4h4h4h4h4v-4h4v4h4v-4h4v4h4h4h4v-4h4h4h4h4v4h4h4h4h4h4h4h4v4h4v-4h4v-4h4h4h4h4v4h4h4h4h4v-4h4h4v4h4v-4h4v4h4h4h4v-4h4h4h4v4h4v4h4v-8h4h4v4h4h4v-4h4v4h4v-4h4h4h4v4h4h4h4h4v4h4v-4h4h4v-4h4h4h4v4h4v4h4v-8h4v-4h4v8h4h4h4h4h4h4v-4h4v4h4h4v-4h4h4h4v4h4h4h4h4h4v-4h4v4h4v4h4v-4h4h4v4h4v-4h4h4h4v-4h4v8h4v-4h4h4v-4h4v8h4h4v-4h4v4h4v-4h4h4v4h4v-4h4v4h4h4v-4h4v4h4v-4h4v4h4v-4h4h4h4v4h4h4v-4h4h4h4v8h4v-12h4v8h4h4v-4h4v4h4h4h4v-8h4v4h4h4v4h4h4v-4h4h4v4h4v-4h4h4V768h-4h-4v4h-4v-4h-4h-4h-4v8h-4h-4v-4h-4v-4h-4h-4h-4h-4v4h-4v-4h-4v4h-4v-4h-4h-4v8h-4v-8h-4h-4h-4h-4v4h-4v-4h-4h-4v4h-4h-4v-4h-4h-4h-4v4h-4v-4h-4v4h-4v-4h-4v-4h-4v4h-4h-4h-4h-4v-4h-4v4h-4h-4h-4h-4v-4h-4v4h-4v-4h-4v4h-4h-4h-4h-4h-4h-4h-4v4h-4v-4h-4h-4h-4v-4h-4v-4h-4v8h-4h-4h-4h-4h-4h-4h-4v-4h-4h-4v4h-4h-4v4h-4v-8h-4v4h-4v4h-4v-8h-4h-4v4h-4v-4h-4v4h-4v4h-4v-4h-4v-4h-4h-4v4h-4h-4h-4v-4h-4v4h-4h-4h-4v4h-4v-4h-4h-4h-4h-4v-4h-4v4h-4h-4h-4v4h-4v-4h-4v-4h-4v4h-4h-4h-4h-4h-4v-4h-4h-4h-4h-4h-4v4h-4v-4h-4h-4h-4h-4h-4h-4h-4v4h-4v-4h-4h-4h-4h-4h-4h-4h-4h-4h-4h-4h-4h-4h-4h-4v4h-4h-4v-4h-4v-4h-4v4h-4h-4v4h-4h-4h-4v-4h-4h-4h-4h-4v4h-4h-4h-4h-4v-8h-4v8h-4h-4v-4h-4h-4v4h-4h-4h-4v-4h-4v4h-4v-4h-4v4h-4h-4h-4v-4h-4h-4h-4v4h-4v-4h-4v4h-4v-4h-4v-4h-4v4h-4h-4h-4h-4v4h-4h-4v-4h-4h-4h-4h-4v-4h-4v4h-4h-4h-4v4h-4h-4v-4h-4v-4h-4v4h-4h-4h-4v-4h-4h-4h-4v4h-4v-4h-4v4h-4h-4h-4h-4h-4h-4v-4h-4h-4h-4h-4h-4h-4v4h-4v4h-4h-4v-12h-4v4h-4h-4h-4h-4h-4h-4h-4h-4v-4h-4h-4v8h-4v-4h-4h-4v-4h-4v4h-4h-4h-4v-4h-4h-4v4h-4v-4h-4h-4v4h-4h-4v-4h-4h-4h-4v4h-4h-4v-8h-4h-4v8h-4h-4v-4h-4v4h-4v-8h-4h-4v4h-4v-4h-4v4h-4h-4v4h-4h-4v-8h-4v4h-4h-4h-4h-4v-4h-4h-4h-4h-4h-4v4h-4v-4h-4h-4v4h-4h-4h-4h-4v-4h-4h-4h-4v-4h-4h-4h-4v4h-4v-4h-4h-4v-4h-4h-4v4h-4v4h-4v-4h-4h-4h-4v-4h-4h-4h-4v4h-4v-4h-4v4h-4v-4h-4v-4h-4v4h-4v4h-4v-4h-4h-4h-4v4h-4v-8h-4h-4v12h-4v-8h-4v-4h-4v-4h-4v4h-4h-4h-4v-4h-4h-4h-4v4h-4v4h-4h-4v-12h-4v4h-4h-4h-4h-4h-4v-4h-4v8h-4h-4h-4v-4h-4h-4v-8h-4v4h-4h-4h-4h-4v-4h-4v4h-4h-4v-4h-4v4h-4h-4v-12h-4h-4v4h-4h-4v-4h-4v4h-4h-4v-4h-4h-4v-8h-4h-4v4h-4v-12h-4v8h-4v-4h-4h-4v-4h-4h-4h-4v-4h-4h-4v-4h-4h-4v-4h-4h-4v-4h-4h-4h-4v-12h-4v4h-4v-4h-4v-4h-4h-4h-4v-4h-4h-4v-4h-4v-4h-4v4h-4v-20h-4v-4h-4v4h-4v-8h-4h-4v-8h-4v4h-4v-8h-4h-4v-8h-4v-8h-4h-4v-4h-4v8h-4v-8h-4h-4v8h-4v-12h-4v-4h-4v-4h-4v12h-4v-16h-4h-4h-4h-4h-4v-4h-4v4h-4v-4h-4v4h-4h-4v4h-4h-4v-4h-4h-4v-4h-4v8h-4h-4h-4v-4h-4v8h-4v-4h-4h-4v8h-4v4h-4v-12h-4v16h-4v-8h-4v12h-4h-4v-8h-4h-4v4h-4v8h-4v-4h-4v12h-4v-8h-4v4h-4v8h-4h-4h-4v4h-4h-4h-4v12h-4h-4v-4h-4h-4v-8h-4v12h-4v-4h-4h-4v4h-4h-4v8h-4h-4v8h-4v-4h-4h-4v8h-4v-4h-4v12h-4v-4h-4v-4h-4v8h-4v12h-4v-4h-4v-4h-4v4h-4v4h-4h-4v4h-4h-4h-4h-4v12h-4v4h-4h-4v-4h-4v4h-4h-4h-4v4h-4h-4v4h-4h-4v4h-4v4h-4h-4h-4h-4v8h-4h-4v4h-4h-4v4h-4v4h-4h-4v-4h-4v4h-4v4h-4v-4h-4h-4h-4v4h-4h-4v-4h-4v4h-4h-4v-4h-4h-4h-4v8h-4h-4v-4h-4v4h-4h-4z"/>
<path fill="#FFBF00" d="M172 732h4v-4h4v4h4v-4h4v-4h4v8h4v-4h4h4h4h4h4v-4h4v4h4h4h4h4v-4h4h4h4h4v-4h4h4v-4h4v4h4v-8h4v-8h4v8h4v-4h4h4v-12h4h4h4h4h4v-4h4v-4h4v4h4h4v-4h4v-8h4h4h4v-4h4h4v-4h4v-4h4v-4h4h4h4h4v-4h4h4h4v-4h4v-4h4v-4h4h4v-8h4v-4h4v4h4v-4h4h4h4v-8h4v-4h4h4h4v-8h4h4v-4h4v4h4h4v-4h4v-4h4h4v12h4v-12h4v4h4v-8h4h4v-12h4v4h4v-4h4h4h4h4v-4h4v-8h4h4h4v-4h4h4h4v-4h4v8h4v-16h4h4v4h4h4h4v-4h4v4h4h4v-12h4v8h4v-4h4v4h4v-4h4v-4h4v4h4v4h4v8h4h4v-8h4v8h4v-8h4v4h4h4v4h4v4h4h4v8h4v4h4v-4h4v-4h4v4h4v4h4v4h4h4v12h4v8h4v4h4h4v8h4h4v4h4v4h4h4v4h4v4h4v8h4h4v12h4v-4h4v4h4v-16h4v16h4v4h4v4h4v4h4h4v4h4h4h4h4v8h4h4h4v4h4v4h4h4v-4h4v4h4v4h4v4h4v-4h4v4h4v-4h4v8h4v4h4v-4h4h4v4h4h4v-4h4h4v8h4h4v-4h4v4h4v8h4v-4h4v4h4v-4h4h4h4v4h4h4h4h4v4h4v-8h4h4v8h4v-4h4v4h4v-4h4h4v4h4v-4h4h4h4h4v4h4v4h4v-8h4h4v8h4v-4h4h4h4h4v8h4v-8h4h4v4h4h4h4v4h4h4v-4h4h4v4h4v-4h4v4h4h4h4v4h4v-4h4h4v8h4v-4h4v-4h4h4h4v4h4h4h4h4h4v4h4v-8h4v4h4h4v4h4v-4h4v4h4v-4h4v4h4v4h4v-4h4h4v-4h4v4h4h4h4v-4h4v4h4v-4h4v8h4v-4h4v4h4v-4h4v4h4v-4h4v-4h4v4h4h4h4h4v4h4v-4h4h4h4v4h4h4h4h4h4v-4h4h4v4h4h4v4h4v-4h4h4h4v4h4v-4h4v4h4v-4h4v4h4h4v-4h4h4v4h4v-4h4v4h4v-4h4v4h4v-8h4v8h4v-4h4h4h4v4h4v-4h4v4h4h4h4h4h4v-4h4h4h4v4h4h4h4v4h4v-4h4h4h4h4h4v-4h4v8h4v-4h4h4h4h4h4h4v4h4v-4h4h4v4h4h4h4v-4h4v4h4v-4h4h4h4h4v4h4h4h4h4h4v-4h4v4h4v-4h4v4h4v-4h4h4v4h4h4h4h4h4v4h4v-4h4h4v-4h4v4h4h4h4h4h4h4h4h4h4h4h4v4h4h4h4h4h4h4v-4h4h4h4h4h4h4h4h4h4h4h4v4h4v-4h4v4h4v-4h4h4h4v-4h4v4h4h4v4h4h4v-4h4h4h4v4h4h4v-4h4h4v4h4v-4h4h4v4h4v-4h4h4h4h4h4h4v4h4v-4h4v4h4h4v-8h4v4h4v4h4h4v-4h4v-4h4v4h4h4h4v4h4v-8h4v4h4v4h4h4v-4h4h4h4v4h4v-4h4v4h4v-8h4h4v4h4h4v4h4v-4h4v4h4h4h4h4h4h4v-4h4h4h4h4h4h4v-4h4v8h4h4v-4h4v4h4v-4h4v4h4h4h4v-4h4v4h4h4h4h4h4v-4h4v4h4h4v-4h4h4v4h4h4v-4h4v4h4h4h4v4h4v-4h4h4h4h4h4h4v4h4v-4h4h4h4v4h4v-4h4h4h4h4v4h4v-4h4h4h4h4h4h4h4h4v-4h4v4h4h4h4h4v-4h4v8h4v-8h4v4h4V768h-4h-4h-4h-4h-4v-4h-4v4h-4v4h-4v-4h-4v-4h-4v4h-4h-4h-4h-4v-4h-4v4h-4h-4h-4h-4h-4h-4v-4h-4v4h-4v-4h-4v4h-4v-4h-4v8h-4v-4h-4h-4h-4v-4h-4v4h-4h-4h-4h-4v-4h-4h-4h-4v4h-4h-4v-8h-4v4h-4h-4v4h-4h-4v-4h-4h-4h-4h-4h-4h-4v4h-4h-4v-4h-4h-4h-4h-4v4h-4h-4v-4h-4v-4h-4v4h-4h-4h-4h-4h-4h-4h-4h-4h-4h-4v4h-4h-4v-8h-4v4h-4v4h-4v-4h-4h-4h-4h-4v4h-4v-4h-4h-4h-4h-4v4h-4v-4h-4h-4h-4h-4h-4v4h-4h-4v-4h-4v4h-4v-4h-4v4h-4v-4h-4h-4h-4h-4v4h-4v-4h-4v-4h-4v4h-4h-4h-4h-4h-4h-4h-4h-4v-4h-4v4h-4h-4h-4h-4h-4h-4h-4h-4h-4h-4h-4h-4h-4h-4h-4h-4h-4h-4h-4v-4h-4h-4v4h-4h-4h-4h-4v4h-4v-4h-4v-4h-4v4h-4h-4h-4v4h-4v-4h-4h-4v-4h-4v4h-4h-4h-4v4h-4v-4h-4h-4v-4h-4v4h-4v4h-4v-4h-4h-4h-4h-4h-4h-4h-4v-4h-4v4h-4h-4h-4h-4v-4h-4v4h-4h-4v-4h-4h-4h-4h-4v4h-4v-4h-4h-4h-4h-4v4h-4h-4h-4v-8h-4v4h-4h-4h-4v4h-4v-4h-4v4h-4h-4h-4v-4h-4h-4h-4h-4h-4h-4h-4v4h-4v-4h-4v4h-4v-4h-4h-4h-4v4h-4v-4h-4h-4v-4h-4v4h-4h-4v-4h-4h-4v4h-4v4h-4h-4v-8h-4h-4h-4v4h-4v-4h-4v4h-4h-4v-4h-4h-4h-4h-4h-4h-4h-4h-4v4h-4h-4v-4h-4v-4h-4v4h-4h-4h-4h-4h-4h-4h-4h-4h-4h-4h-4v-4h-4h-4v4h-4h-4v-4h-4h-4h-4h-4v4h-4v-4h-4v4h-4h-4h-4v4h-4v-12h-4v4h-4h-4v4h-4v-4h-4v-4h-4v4h-4h-4h-4h-4h-4h-4h-4h-4v4h-4h-4v-4h-4v-4h-4h-4v4h-4v-4h-4h-4h-4h-4v-4h-4v4h-4v-4h-4h-4v4h-4h-4v-4h-4h-4v4h-4v-4h-4v-4h-4h-4v4h-4v-4h-4v4h-4h-4v-4h-4v4h-4h-4h-4h-4v-8h-4v8h-4v-4h-4h-4v-4h-4h-4h-4h-4h-4h-4v-4h-4v4h-4h-4h-4h-4v4h-4v-8h-4h-4h-4h-4v4h-4v-4h-4v4h-4v-4h-4v4h-4v4h-4v-4h-4v-4h-4h-4v-4h-4v4h-4h-4v-4h-4h-4h-4v4h-4v-4h-4h-4v-4h-4h-4v-4h-4h-4h-4h-4h-4h-4v-4h-4v4h-4v-4h-4v-4h-4h-4h-4v-8h-4v4h-4h-4v-4h-4h-4h-4v-4h-4v-4h-4v4h-4v-8h-4v4h-4v-8h-4v4h-4v-4h-4h-4v-4h-4v-8h-4v-4h-4v4h-4v-4h-4h-4v-4h-4v-4h-4h-4h-4v-12h-4v4h-4v-16h-4h-4v-4h-4v-4h-4h-4v-4h-4v-4h-4h-4v-12h-4v-4h-4h-4h-4v-8h-4v8h-4v-4h-4v-4h-4v4h-4v-8h-4v-4h-4h-4v8h-4v-16h-4h-4v-8h-4v12h-4v-4h-4v-4h-4v4h-4v-8h-4v4h-4h-4h-4h-4v4h-4v-4h-4h-4v8h-4h-4v4h-4v-8h-4v4h-4h-4v4h-4h-4v4h-4v-8h-4v12h-4h-4v8h-4h-4v-4h-4h-4v4h-4v4h-4v-4h-4v8h-4h-4h-4v12h-4h-4h-4h-4v4h-4h-4h-4v4h-4h-4v-8h-4v4h-4v8h-4h-4v-4h-4v8h-4h-4v4h-4v4h-4h-4h-4v4h-4v4h-4h-4h-4v4h-4h-4v8h-4v12h-4v-12h-4h-4h-4v12h-4h-4v4h-4h-4h-4h-4v8h-4h-4h-4v4h-4v4h-4h-4v-4h-4v4h-4h-4v4h-4v4h-4h-4v4h-4v4h-4h-4h-4h-4v4h-4v4h-4h-4v4h-4v8h-4h-4v-4h-4v4h-4v4h-4v-4h-4h-4h-4h-4v4h-4v-4h-4h-4v4h-4v-8h-4v4h-4h-4v4h-4h-4h-4v4h-4v-4h-4z"/>
<path fill="#389A78" d="M172 832h4v-4h4v8h4v-8h4v8h4h4v-8h4v4h4v-4h4v4h4v4h4h4h4v4h4v-8h4v8h4v4h4h4h4h4h4v-4h4v8h4v-4h4h4v-4h4h4v4h4v-4h4v-4h4h4v4h4h4v-4h4v8h4v-8h4h4h4v-4h4v4h4v-8h4h4v-16h4v8h4v-4h4h4h4v-4h4h4v-8h4h4v-12h4v4h4h4v-4h4v-8h4v-12h4h4h4v-12h4h4v-4h4v-8h4v4h4v-16h4v4h4h4h4v-12h4h4v4h4v-8h4h4v-4h4h4v4h4v-4h4v-4h4h4v-4h4v4h4v-4h4v-4h4v-4h4v-12h4h4v8h4v4h4v-4h4v-12h4v20h4v-12h4h4v4h4v4h4v-8h4v12h4v-24h4h4v8h4v8h4v-12h4v-4h4v8h4h4h4v8h4v4h4h4v-4h4v8h4v-8h4h4v12h4v4h4v4h4h4v8h4v8h4h4v-8h4h4v16h4h4v12h4h4h4v4h4v12h4h4v-4h4v12h4h4h4h4v4h4v8h4h4h4v4h4v-4h4h4v16h4v-4h4h4v12h4v4h4h4h4v4h4v4h4h4v8h4v8h4h4h4v4h4v4h4h4h4v4h4v-4h4v8h4h4v-4h4v8h4h4h4v4h4h4h4h4v8h4h4h4v-12h4v12h4h4h4h4v8h4h4h4v-4h4v4h4h4v-4h4h4v12h4v-4h4v4h4h4v4h4v-4h4h4h4v4h4h4v-4h4v4h4h4h4v4h4h4h4h4h4v4h4v-4h4v4h4v-4h4v4h4v-4h4v4h4v4h4v-4h4h4h4h4v-4h4v8h4h4v-4h4h4h4v4h4h4h4h4h4h4v-4h4h4v4h4h4h4v4h4v-4h4h4v-4h4h4v4h4v-4h4v4h4v4h4v-4h4h4h4h4v-4h4v8h4h4v-4h4v4h4h4h4h4v-8h4v4h4h4h4v4h4v-4h4v4h4v-4h4h4v4h4h4v-4h4v4h4h4h4v4h4h4v-4h4h4v4h4h4h4v-4h4v4h4v-4h4v4h4v-4h4v4h4v-4h4v4h4h4h4h4h4h4h4h4h4h4v-4h4v4h4v4h4v-4h4v4h4h4v-4h4v-4h4h4h4v8h4v-4h4h4v4h4v4h4v-4h4h4v-4h4v4h4h4h4v-4h4h4v8h4v-4h4h4h4h4h4h4v4h4v-4h4h4h4h4h4h4h4v4h4v-4h4v4h4v-8h4h4v4h4h4h4v4h4h4h4v4h4v-4h4h4v4h4h4h4h4h4h4h4h4v-4h4h4h4v4h4v-4h4h4h4h4v4h4h4v4h4h4v-4h4v4h4v-4h4h4h4v4h4h4v-4h4h4h4h4h4h4h4h4v4h4h4v-4h4h4h4h4h4h4h4h4h4v4h4h4v-4h4h4v4h4v-4h4h4h4h4v-4h4h4v8h4v-4h4v4h4h4h4h4h4v-4h4h4h4v4h4v-4h4v-4h4v4h4v4h4h4h4v-4h4v-4h4v4h4h4h4v4h4v-4h4v-8h4h4v8h4h4h4v-4h4h4v4h4h4v4h4v-4h4h4h4h4h4h4h4v-4h4v4h4h4v4h4v-4h4h4h4v4h4v-4h4h4v4h4v-4h4h4h4h4h4h4h4h4v4h4h4h4h4h4h4h4h4h4h4v4h4h4v-4h4h4v-4h4v4h4h4v4h4h4h4v-4h4h4v4h4v-4h4v-4h4v4h4v4h4v-4h4h4v-4h4v4h4v4h4h4h4v-8h4v8h4v-4h4h4v-4h4v8h4h4v-4h4h4v4h4v-4h4v4h4h4h4v-8h4v4h4h4v4h4h4h4h4h4h4V944h-4v8h-4h-4h-4v-8h-4v4h-4h-4v4h-4v-4h-4h-4h-4h-4h-4h-4h-4h-4h-4h-4h-4v-4h-4h-4h-4h-4v4h-4h-4v-4h-4v4h-4h-4h-4v-4h-4h-4h-4v4h-4v-4h-4h-4v4h-4v4h-4h-4v-8h-4h-4h-4v-4h-4v4h-4v4h-4h-4h-4h-4h-4h-4h-4v-4h-4v4h-4h-4h-4h-4v-4h-4h-4v4h-4h-4h-4h-4v-4h-4v-4h-4v4h-4h-4h-4h-4h-4h-4h-4h-4v4h-4v-4h-4h-4h-4v4h-4h-4v-4h-4h-4h-4h-4v4h-4h-4v-4h-4v8h-4h-4v-8h-4v4h-4v-4h-4h-4v-4h-4v4h-4h-4h-4h-4v4h-4h-4v-4h-4v-4h-4v4h-4h-4v-4h-4v4h-4h-4v-4h-4v4h-4v-4h-4h-4v4h-4v-4h-4v4h-4v-4h-4h-4v4h-4v4h-4v-4h-4h-4h-4h-4h-4v-4h-4v4h-4h-4h-4h-4h-4h-4h-4h-4h-4v-4h-4h-4h-4h-4v4h-4v-4h-4v4h-4h-4h-4h-4h-4v-4h-4h-4h-4h-4v4h-4h-4v4h-4v-8h-4v4h-4h-4v-4h-4v4h-4v-4h-4v4h-4h-4h-4h-4h-4h-4h-4v-4h-4v4h-4h-4h-4v-4h-4h-4h-4h-4h-4h-4v4h-4v-8h-4v4h-4v4h-4v-4h-4h-4v-4h-4v4h-4h-4v-4h-4v4h-4h-4h-4v-4h-4h-4h-4v-4h-4v8h-4v-8h-4v4h-4v-4h-4h-4v8h-4h-4h-4h-4h-4h-4v-8h-4v4h-4v-4h-4v4h-4v-4h-4v8h-4v-4h-4v-4h-4v4h-4h-4v-4h-4h-4v4h-4h-4h-4h-4v-4h-4h-4v4h-4h-4h-4h-4h-4h-4h-4v-4h-4h-4v8h-4v-8h-4h-4v4h-4v-8h-4h-4h-4h-4v4h-4h-4h-4v-4h-4v4h-4h-4v4h-4h-4v-4h-4h-4v-4h-4h-4h-4h-4v-4h-4v4h-4v8h-4v-8h-4v-4h-4v8h-4v-4h-4v4h-4h-4v-4h-4v-4h-4v4h-4v-4h-4v4h-4h-4h-4v-4h-4h-4h-4h-4v4h-4h-4v-4h-4v4h-4h-4v-4h-4h-4h-4h-4h-4h-4v-4h-4h-4v4h-4v-4h-4h-4v4h-4v-4h-4v8h-4h-4v-8h-4v4h-4h-4v-4h-4v4h-4h-4v-4h-4h-4v4h-4v-8h-4v8h-4h-4v-4h-4v4h-4v-4h-4h-4h-4h-4h-4v4h-4h-4v-4h-4v4h-4v-4h-4h-4v-4h-4h-4v-4h-4v4h-4v4h-4h-4v-8h-4h-4v4h-4v-8h-4v4h-4v4h-4h-4v-12h-4v8h-4h-4h-4v-4h-4v-4h-4v4h-4v-4h-4v-4h-4v8h-4h-4v-12h-4v4h-4h-4v-4h-4v8h-4v-4h-4v-4h-4h-4v-8h-4v4h-4h-4h-4v-4h-4v4h-4v-8h-4h-4v4h-4v-8h-4v4h-4h-4v-4h-4v-4h-4v-4h-4v4h-4h-4v-4h-4h-4v-8h-4h-4v8h-4v-8h-4v-4h-4h-4v4h-4v-12h-4h-4h-4v-4h-4v-4h-4v-4h-4v-4h-4v4h-4v-12h-4v-4h-4v-4h-4v-4h-4v-4h-4v-4h-4v4h-4v-4h-4v-8h-4v-4h-4h-4h-4h-4v-4h-4h-4v-4h-4v-4h-4v-12h-4v4h-4h-4h-4h-4v-8h-4v-4h-4v-4h-4h-4v-8h-4v-4h-4v-8h-4v4h-4v-4h-4v-4h-4h-4v-12h-4h-4v4h-4v-4h-4v4h-4v4h-4v-8h-4v-4h-4v4h-4h-4h-4h-4v8h-4v-4h-4h-4v-8h-4v20h-4v-16h-4h-4v8h-4v-4h-4v4h-4v4h-4v4h-4h-4v-4h-4v12h-4v-4h-4h-4h-4v-4h-4h-4v4h-4v8h-4v-8h-4v4h-4v4h-4h-4v4h-4v4h-4h-4v-4h-4v4h-4v8h-4h-4v4h-4v12h-4v-8h-4v8h-4h-4v4h-4v8h-4v12h-4h-4h-4v4h-4v4h-4v12h-4v-4h-4h-4h-4v20h-4v-8h-4h-4v-4h-4v8h-4h-4h-4v12h-4h-4v4h-4v-4h-4v4h-4h-4v4h-4v4h-4h-4v-8h-4v4h-4v12h-4v-12h-4v4h-4v4h-4v-8h-4h-4v4h-4h-4h-4v4h-4v-4h-4v-4h-4v4h-4h-4h-4h-4v-8h-4h-4h-4h-4v4h-4v-4h-4h-4v-8h-4v8h-4v-4h-4v4h-4h-4v4h-4v-8h-4v4h-4z"/>
<path fill="#00B478" d="M172 836h4v-4h4v4h4h4v4h4v-4h4h4v-4h4v4h4h4v4h4h4v-4h4v4h4v-4h4v8h4v4h4h4v-4h4v4h4v-4h4h4v4h4h4h4h4v-4h4v4h4v-4h4v-4h4v4h4v-4h4h4h4v4h4v-4h4v-4h4h4v-4h4v8h4v-8h4v-4h4v-8h4v8h4v-8h4h4v-4h4h4v-4h4h4v-8h4h4h4v-8h4h4v-8h4v-12h4h4v-4h4v-12h4h4h4v-8h4h4h4v-12h4v4h4h4v-8h4v-4h4v4h4v-12h4v4h4v-4h4h4v4h4v4h4v-8h4v-4h4v-4h4h4v-4h4v4h4h4v-12h4h4v4h4h4v-4h4v-4h4v16h4v-12h4v-4h4v4h4v8h4v-12h4v8h4v-16h4v4h4h4v4h4h4v-8h4v4h4v4h4v-4h4v8h4h4v4h4h4h4h4v4h4v4h4v8h4v-4h4v4h4v8h4v4h4h4h4v12h4h4v-4h4v12h4v4h4h4v8h4v8h4h4h4v4h4v4h4h4h4h4v8h4h4v4h4v4h4v-8h4v12h4v4h4v4h4h4v8h4v4h4v4h4v-4h4v4h4v4h4v-4h4v8h4v12h4v-4h4v4h4v4h4h4v4h4h4h4h4v4h4v4h4v-4h4v8h4h4h4h4h4h4v4h4v4h4h4v4h4v-4h4v4h4v-4h4h4v8h4h4h4h4h4h4v4h4h4v-4h4v8h4h4h4h4v4h4h4v-4h4v4h4v4h4h4v-4h4h4v4h4h4v4h4v-4h4h4h4v4h4h4v-4h4v4h4h4h4h4h4v4h4v-4h4h4h4h4v4h4h4h4h4h4h4h4h4h4h4h4h4h4h4v4h4h4h4h4v-4h4h4v-4h4v4h4h4h4h4v4h4v-4h4v4h4h4v-4h4v4h4h4h4h4h4h4h4h4h4v-4h4h4v4h4h4h4h4v4h4h4v-4h4v4h4v4h4v-4h4h4v-4h4v4h4h4h4v-4h4v4h4h4v4h4v-4h4v4h4v-4h4h4h4h4v-4h4v4h4v4h4v-4h4h4h4v4h4h4v-4h4v4h4h4h4h4h4v-4h4v4h4h4h4v-4h4v-4h4v4h4v4h4h4h4h4v4h4h4v-4h4h4v4h4v-4h4h4h4v-4h4v8h4v-4h4h4h4h4h4h4v4h4h4h4v-4h4v4h4h4h4h4h4h4h4h4h4h4h4h4h4v4h4v-4h4v4h4h4h4h4h4h4v4h4v-4h4h4h4h4h4h4h4h4h4h4v-4h4v4h4h4v4h4h4h4h4h4v-4h4h4v4h4h4h4h4h4h4v-4h4v4h4h4v-4h4v4h4h4h4v-4h4h4v4h4h4h4v-4h4h4v4h4h4h4h4h4h4h4v-4h4h4h4v4h4h4h4h4h4h4h4h4h4h4v-4h4v8h4v-4h4h4h4v-4h4v4h4h4h4h4v-4h4v4h4h4v-4h4v4h4h4h4v-4h4h4v4h4h4h4v-4h4h4v4h4v-4h4v4h4h4v-4h4v4h4v-4h4h4h4v4h4h4h4h4h4v-4h4v4h4h4h4v-4h4v4h4h4h4v-4h4v4h4h4h4h4h4h4h4h4h4h4h4h4h4h4h4h4v4h4h4h4v-4h4h4h4v4h4h4h4h4h4v-4h4v4h4v-4h4v4h4v-4h4v4h4v-4h4h4h4h4v4h4h4h4v-4h4v4h4h4v-4h4v-4h4v8h4h4h4h4h4h4h4h4h4v-4h4v4h4h4h4h4v4h4v-4h4v4h4v-4h4V944h-4v8h-4v-4h-4v-4h-4h-4v4h-4h-4v-4h-4h-4v4h-4v-4h-4h-4v4h-4h-4v-4h-4v4h-4v-4h-4v4h-4h-4v-4h-4h-4h-4h-4v4h-4h-4v-4h-4h-4h-4v4h-4v-4h-4h-4h-4h-4h-4h-4v4h-4h-4h-4v-4h-4h-4h-4v-4h-4h-4v4h-4h-4v4h-4h-4v-4h-4h-4h-4h-4h-4h-4h-4h-4h-4h-4h-4h-4h-4h-4h-4v-4h-4v4h-4h-4h-4h-4h-4h-4h-4h-4h-4v-4h-4h-4h-4v4h-4h-4v-4h-4v4h-4v-4h-4v4h-4h-4h-4h-4v4h-4v-4h-4h-4h-4h-4v-4h-4h-4v4h-4h-4v-4h-4v4h-4h-4h-4h-4v-4h-4h-4v4h-4v-4h-4v4h-4h-4v-4h-4v4h-4v-4h-4h-4v4h-4v-4h-4h-4h-4h-4h-4h-4v4h-4h-4h-4v-4h-4h-4h-4h-4h-4v4h-4h-4h-4v-4h-4v4h-4v-4h-4h-4h-4h-4h-4h-4v4h-4v-4h-4h-4v4h-4h-4v-4h-4h-4h-4h-4h-4h-4v4h-4v-4h-4h-4h-4v4h-4v-4h-4h-4h-4h-4h-4v4h-4v-4h-4v4h-4h-4v-8h-4v4h-4h-4v4h-4v-8h-4v8h-4v-8h-4v4h-4h-4v-4h-4h-4v4h-4h-4v-4h-4h-4v4h-4v-4h-4h-4v-4h-4v4h-4v-4h-4v4h-4h-4v4h-4v-4h-4h-4v-4h-4h-4h-4v8h-4v-8h-4h-4h-4h-4v4h-4v-4h-4h-4v4h-4h-4h-4v-4h-4h-4h-4h-4h-4v4h-4h-4v-4h-4v4h-4v-8h-4v4h-4h-4v4h-4h-4v-4h-4v4h-4v-4h-4h-4h-4h-4h-4h-4h-4v-4h-4v4h-4h-4v-4h-4v4h-4v-4h-4h-4v4h-4v-4h-4h-4h-4v-4h-4v8h-4v-4h-4v4h-4v-4h-4h-4v4h-4h-4h-4v-4h-4v4h-4v-4h-4h-4h-4h-4v-8h-4v8h-4h-4v-4h-4h-4v4h-4h-4h-4h-4v-4h-4h-4h-4h-4h-4v4h-4h-4v-4h-4v-4h-4h-4v4h-4h-4v4h-4v-4h-4h-4h-4v-4h-4v4h-4h-4v-4h-4v4h-4v-4h-4v-4h-4h-4v4h-4h-4h-4h-4h-4v4h-4v-4h-4h-4v4h-4v-4h-4h-4v4h-4v-4h-4h-4v-4h-4h-4h-4v4h-4h-4h-4h-4h-4h-4v-4h-4h-4v4h-4h-4h-4v-4h-4h-4h-4v-4h-4v4h-4h-4v-4h-4h-4h-4h-4v-4h-4v4h-4h-4v-4h-4h-4h-4v4h-4v-8h-4v8h-4v-4h-4h-4v-4h-4h-4h-4v-4h-4h-4h-4h-4v-4h-4h-4v4h-4v-4h-4h-4h-4v-4h-4h-4v-4h-4v4h-4v-4h-4h-4v-4h-4v4h-4v-8h-4v4h-4h-4v-4h-4h-4h-4v-4h-4v-4h-4h-4v-4h-4v4h-4v-4h-4h-4v-4h-4v-4h-4h-4h-4h-4h-4v-4h-4v-8h-4h-4v-4h-4h-4v-4h-4v-4h-4h-4h-4v-12h-4v-4h-4v-4h-4h-4v-4h-4v-8h-4h-4v4h-4v-8h-4v-4h-4h-4v-4h-4v4h-4v-8h-4h-4h-4v-8h-4v-8h-4h-4v-4h-4h-4v-4h-4h-4v-8h-4h-4h-4v-12h-4h-4v-4h-4h-4v-8h-4v-8h-4v8h-4v-8h-4v-4h-4h-4v4h-4h-4v-8h-4v-4h-4v4h-4v4h-4v4h-4v-4h-4v-4h-4v8h-4v-4h-4h-4h-4h-4h-4v4h-4h-4h-4v4h-4h-4h-4v8h-4v-8h-4v12h-4v-4h-4h-4v8h-4v-4h-4v-8h-4v8h-4v8h-4v-4h-4h-4v4h-4h-4h-4v4h-4h-4h-4v4h-4v4h-4v8h-4h-4v12h-4v-4h-4v4h-4h-4h-4v16h-4v4h-4v-4h-4v12h-4h-4v4h-4v8h-4h-4h-4v4h-4v8h-4v4h-4v-4h-4v-4h-4v8h-4v4h-4h-4v4h-4v4h-4v4h-4h-4v-4h-4h-4v4h-4v8h-4h-4v-4h-4v4h-4v8h-4v-12h-4h-4v8h-4v-4h-4v-4h-4v4h-4v4h-4h-4v-4h-4h-4v-4h-4v4h-4v4h-4h-4v-4h-4v-8h-4h-4v-4h-4v8h-4v-4h-4h-4v4h-4v-8h-4h-4h-4v8h-4v-8h-4v4h-4h-4v4h-4z"/>
<path fill="#6A6A80" d="M172 1064h4h4v-4h4v-4h4h4v-4h4v4h4v-4h4v4h4h4v-4h4h4h4h4v-4h4h4h4h4h4v-4h4h4h4v4h4h4v-4h4h4h4v-8h4h4h4h4h4h4v-4h4v4h4h4v-4h4v-4h4v-12h4v8h4v4h4v-8h4v4h4v-4h4h4v-8h4h4v-4h4h4v-8h4v4h4h4v-8h4v-4h4v4h4v-4h4v-4h4v-8h4h4h4v-4h4v-4h4v-16h4h4v-4h4v8h4v-4h4h4v-4h4v-8h4h4v-4h4v-8h4h4v8h4v-4h4v8h4v-8h4v-4h4h4v-4h4v-16h4v16h4v-12h4h4h4v4h4h4v-24h4v16h4v-4h4v4h4v-8h4v4h4v-4h4v4h4v-4h4h4h4v-16h4h4v4h4h4v-8h4h4v4h4h4v8h4v-12h4v4h4h4v8h4v-20h4h4v24h4v-8h4v12h4v-8h4v12h4v4h4h4v4h4v-8h4v8h4h4v16h4v-4h4v12h4v-4h4h4v8h4v4h4v8h4v-12h4v8h4v16h4v-4h4v8h4v4h4v-8h4v12h4h4v4h4h4v12h4h4v4h4v8h4h4h4v4h4h4v12h4h4v-4h4v8h4h4v-4h4v8h4h4h4h4v8h4v4h4v4h4v4h4v-4h4h4v8h4v-4h4h4v8h4h4v4h4v-4h4h4h4h4v8h4h4h4v-4h4v4h4v-4h4h4v4h4h4v4h4v-4h4v8h4h4v-4h4v4h4h4h4h4v4h4h4h4v4h4h4h4v-4h4h4v4h4v-4h4h4h4h4h4h4v4h4v-4h4v4h4h4v4h4v-4h4h4v4h4h4h4h4h4h4h4h4h4h4h4v-4h4v12h4h4v-4h4h4v-4h4v4h4h4v-4h4v4h4h4h4h4h4h4v4h4v-4h4h4h4h4v4h4h4h4v4h4v-4h4h4v4h4h4v-4h4h4h4h4h4v-4h4h4v8h4h4v-8h4v4h4h4h4h4v4h4h4h4h4v-4h4v4h4h4v-4h4v4h4v-4h4v4h4h4v4h4h4v-4h4v4h4h4v-4h4h4v4h4h4v-4h4h4v4h4v-4h4h4h4v4h4h4v-4h4h4v4h4h4h4v-8h4v4h4h4v4h4v-4h4v4h4h4h4h4h4h4h4h4h4h4h4v4h4h4v-4h4v4h4h4h4h4h4h4v-4h4v4h4h4h4v-4h4v4h4h4h4h4h4h4v4h4v-8h4v4h4h4v-4h4v8h4h4v-4h4v4h4h4h4h4h4h4h4v4h4v-4h4h4h4v-4h4h4v4h4h4v-4h4h4v4h4h4v4h4v-8h4h4v4h4v-4h4h4v8h4v-4h4h4v4h4v-4h4h4v4h4v-4h4v-4h4v4h4v4h4h4h4v-4h4v-4h4v4h4h4h4h4h4v4h4v-4h4h4h4h4h4h4h4h4v4h4h4v-4h4h4v4h4h4h4h4v-4h4h4v-4h4v8h4h4v-4h4h4v4h4h4h4h4v-4h4v4h4h4h4v-4h4h4v4h4h4v-4h4h4h4h4h4v4h4h4h4h4h4h4v-4h4h4h4v4h4h4v-4h4v4h4h4v-8h4v8h4v-4h4h4v-4h4h4v8h4h4v-4h4h4v4h4h4h4h4h4h4v-4h4v4h4v-4h4v4h4h4h4v-4h4v-4h4h4v8h4v-4h4v4h4h4h4v-4h4v4h4h4h4h4h4h4v-4h4h4v4h4h4v-4h4v4h4h4v-4h4v4h4h4v-4h4v4h4h4h4v4h4h4v-4h4h4v-4h4v4h4v-4h4h4h4h4v8h4h4h4h4v-4h4h4h4h4h4h4h4h4V1132h-4h-4h-4h-4h-4v-4h-4v4h-4v4h-4h-4v-4h-4h-4h-4h-4v-4h-4v4h-4v-4h-4h-4h-4h-4h-4v4h-4v-4h-4h-4v8h-4h-4v-8h-4v4h-4h-4h-4v-4h-4h-4v4h-4h-4v-4h-4h-4v4h-4h-4h-4v-4h-4h-4h-4h-4h-4v4h-4v-4h-4v-4h-4v8h-4h-4v-4h-4h-4h-4h-4h-4v4h-4h-4h-4h-4h-4h-4h-4v4h-4h-4v-8h-4v4h-4h-4v-4h-4h-4v8h-4v-8h-4v4h-4h-4v-4h-4h-4v-4h-4v4h-4h-4h-4v4h-4h-4h-4h-4h-4h-4v-4h-4h-4v4h-4v-4h-4h-4h-4v4h-4h-4v-4h-4h-4h-4h-4h-4h-4h-4h-4h-4v4h-4h-4h-4v-4h-4v8h-4v-8h-4v4h-4h-4v-4h-4h-4v-4h-4v8h-4h-4h-4v-4h-4h-4h-4v-4h-4v4h-4v-4h-4v4h-4h-4h-4h-4v-4h-4v4h-4v4h-4v-4h-4v-4h-4v4h-4v4h-4v-4h-4h-4h-4h-4h-4h-4h-4h-4h-4v4h-4v-4h-4v4h-4h-4h-4h-4v-8h-4v4h-4h-4v4h-4v-8h-4v4h-4h-4v4h-4v-8h-4h-4v8h-4h-4v-4h-4h-4v-4h-4v4h-4h-4h-4h-4h-4h-4h-4v-4h-4v4h-4v-4h-4h-4v4h-4h-4v-4h-4v4h-4h-4v-4h-4h-4h-4h-4h-4v-4h-4h-4v4h-4h-4v-4h-4h-4v4h-4v-4h-4h-4v4h-4v-4h-4v4h-4h-4v-4h-4h-4v4h-4v-4h-4h-4h-4v4h-4h-4h-4h-4v-4h-4h-4h-4h-4h-4h-4v8h-4v-4h-4h-4v-4h-4h-4h-4h-4v4h-4v-4h-4h-4v-4h-4v4h-4v-4h-4h-4h-4h-4h-4v8h-4v-8h-4h-4h-4v4h-4v-4h-4v4h-4h-4v-4h-4h-4v4h-4h-4h-4v-4h-4v-4h-4v4h-4h-4h-4v-4h-4h-4v4h-4h-4h-4h-4v8h-4v-8h-4v-4h-4h-4v8h-4v-4h-4h-4v-4h-4v4h-4h-4h-4v-4h-4v4h-4v-8h-4v4h-4h-4h-4h-4v4h-4v-8h-4v8h-4v-8h-4v4h-4h-4v-4h-4h-4v4h-4h-4h-4h-4h-4v-4h-4v4h-4h-4v-4h-4h-4v-4h-4h-4v4h-4v4h-4v-8h-4h-4h-4v-4h-4v4h-4h-4v-4h-4v8h-4v-4h-4h-4v-4h-4v8h-4v-8h-4h-4v4h-4v8h-4v-12h-4v4h-4v-4h-4h-4h-4h-4v-4h-4h-4h-4h-4h-4h-4h-4v-4h-4v4h-4h-4h-4v4h-4h-4v-8h-4h-4v4h-4v-4h-4v-4h-4v4h-4h-4h-4h-4v-4h-4v8h-4v-8h-4h-4h-4v4h-4v-12h-4v4h-4h-4v-4h-4h-4h-4h-4h-4h-4v-4h-4v-4h-4h-4v-8h-4h-4h-4h-4h-4h-4v-8h-4v-4h-4v4h-4h-4v-4h-4v-8h-4h-4h-4h-4v-4h-4v-4h-4v8h-4v-16h-4h-4h-4v-8h-4h-4h-4v-4h-4v-8h-4v-4h-4h-4h-4v-12h-4v4h-4v-12h-4h-4h-4v-12h-4v8h-4v-4h-4v-12h-4v8h-4h-4v-12h-4h-4v-12h-4v4h-4h-4v-4h-4h-4v-4h-4v-16h-4v16h-4v-8h-4h-4h-4v-12h-4v12h-4v-12h-4h-4v-12h-4v8h-4h-4v4h-4v-12h-4v8h-4v-4h-4h-4v12h-4v-4h-4v-4h-4v16h-4h-4h-4v-8h-4v-4h-4v4h-4v4h-4v8h-4h-4h-4v-4h-4v12h-4v-4h-4h-4h-4v8h-4h-4v4h-4v8h-4h-4v4h-4h-4v-4h-4h-4v4h-4v-4h-4h-4v8h-4v-4h-4v4h-4h-4v4h-4v8h-4h-4h-4v-4h-4v4h-4h-4v4h-4v12h-4h-4v8h-4h-4v8h-4h-4v-4h-4v8h-4h-4h-4h-4v12h-4v-8h-4v8h-4v-4h-4v12h-4v8h-4h-4v-8h-4v4h-4v4h-4h-4h-4h-4v8h-4v-4h-4v4h-4h-4v4h-4v-8h-4v8h-4h-4h-4h-4h-4v-4h-4v8h-4h-4v4h-4v-4h-4v4h-4h-4h-4h-4h-4v-4h-4h-4v4h-4h-4v4h-4v4h-4h-4h-4v4h-4h-4v-4h-4h-4h-4v4h-4h-4h-4z"/>
<path fill="#646491" d="M172 1064h4h4h4v-4h4h4h4v-4h4h4v4h4v-4h4h4v-4h4h4h4h4h4v-4h4v4h4h4v4h4v-12h4v4h4h4v4h4v-4h4v-4h4h4v-4h4v4h4v-4h4v-4h4v4h4h4v-4h4h4h4v-4h4h4v-8h4h4v4h4v-4h4v4h4v-4h4v-4h4h4v-8h4v4h4h4v-12h4h4h4v-4h4v-8h4v4h4v-4h4h4v-8h4h4v-4h4v-4h4h4v-12h4v-4h4h4v4h4v-4h4v-4h4h4v-8h4v-4h4h4v4h4v-12h4v12h4v4h4v-8h4v-8h4h4h4v-4h4v-4h4v4h4v-8h4h4v-4h4h4h4v-8h4v4h4h4h4v-8h4h4h4h4h4v-4h4h4v-8h4h4h4v8h4v-16h4v4h4h4h4v8h4h4v-12h4h4v12h4v-4h4v4h4v4h4v-4h4v8h4h4v8h4h4v-4h4v12h4v-8h4v8h4v-4h4v12h4v4h4v8h4h4v8h4v-4h4v4h4v4h4h4v4h4v8h4v4h4v4h4h4v4h4h4v4h4v4h4v4h4v8h4h4v4h4v4h4h4h4v8h4v4h4v4h4h4h4v12h4v-8h4h4v8h4v4h4h4v-8h4v12h4v4h4h4v8h4v-4h4h4v4h4h4h4v4h4v4h4v4h4v-8h4h4v8h4v-4h4v4h4h4v4h4v-4h4v4h4h4v-4h4v4h4h4v4h4v-4h4v8h4v-4h4v-4h4v4h4v4h4v4h4v-8h4v4h4h4v4h4h4h4v4h4v-4h4h4h4v-4h4v4h4h4h4v-4h4h4v8h4v-4h4v4h4h4h4v-4h4h4v4h4h4h4h4v4h4v-4h4v4h4h4v-4h4v4h4v-4h4v4h4v4h4h4h4v-4h4h4v4h4h4v-4h4v4h4h4h4v-4h4h4v4h4h4h4v-4h4v4h4v-4h4v8h4v-4h4v4h4h4v-4h4v4h4h4h4v-4h4h4v4h4v-4h4h4h4h4v4h4h4v-4h4v4h4v-4h4h4v4h4h4h4v4h4h4v-4h4h4h4h4h4v4h4h4h4h4h4h4h4h4h4h4h4h4h4h4h4h4v-4h4h4v4h4h4h4h4v4h4h4v-4h4h4h4h4v4h4v-4h4v4h4v-4h4h4v4h4h4v-4h4v4h4h4v-4h4h4v8h4h4h4v-4h4h4h4h4h4v4h4v-4h4v4h4h4v-4h4v4h4v-4h4h4h4h4h4h4v4h4h4v-4h4v4h4h4h4h4h4v-4h4v4h4h4h4v4h4h4h4h4v4h4v-8h4h4v4h4v-4h4v-4h4v8h4h4v-4h4h4h4v4h4h4v-4h4h4h4h4h4v4h4v-4h4h4v4h4h4h4h4h4v-4h4v4h4h4h4h4v-4h4h4h4h4h4v4h4h4h4h4v-4h4h4v4h4h4h4h4v-4h4v4h4h4v-4h4h4v4h4h4h4h4v-4h4h4v4h4v4h4v-4h4h4h4h4v4h4h4v-4h4h4h4h4h4h4h4h4h4v4h4v-4h4h4h4v-4h4v4h4h4v4h4v-4h4h4h4h4h4h4h4h4h4v4h4h4v-8h4v4h4h4h4h4h4h4h4h4v-4h4v8h4v-4h4h4v4h4v-4h4h4v4h4h4v-4h4v4h4v-4h4h4h4h4h4h4h4h4h4h4h4h4v4h4v-4h4v4h4v-4h4v4h4v-4h4h4v4h4v-4h4h4v4h4h4v-4h4h4h4h4v4h4h4h4h4h4v-4h4v4h4h4v-4h4v4h4h4v-4h4h4v8h4v-4h4h4h4h4h4v-4h4v4h4v-4h4h4v4h4v-4h4V1128h-4h-4h-4v4h-4h-4v-4h-4v4h-4v-4h-4h-4h-4v4h-4h-4h-4v-8h-4v4h-4h-4h-4h-4h-4v-4h-4v4h-4h-4h-4h-4h-4h-4h-4v4h-4v-4h-4h-4h-4v-4h-4v4h-4h-4v-4h-4v4h-4v4h-4v-4h-4h-4h-4h-4h-4v-4h-4h-4v4h-4v-4h-4v8h-4h-4v-8h-4v4h-4v-4h-4v4h-4h-4v4h-4v-4h-4v4h-4h-4v-4h-4h-4v4h-4v-4h-4h-4h-4v4h-4v-4h-4h-4h-4h-4h-4h-4v-4h-4v4h-4h-4v-4h-4v4h-4h-4h-4h-4h-4h-4h-4v4h-4v-4h-4h-4h-4h-4h-4h-4h-4v4h-4v-4h-4h-4h-4h-4v-4h-4v4h-4h-4v-4h-4v4h-4v-4h-4v8h-4v-4h-4v4h-4v-4h-4h-4h-4v4h-4v-4h-4h-4v-4h-4h-4h-4v4h-4h-4h-4v-4h-4h-4h-4h-4h-4h-4v4h-4h-4h-4v-4h-4v4h-4h-4v-4h-4h-4v4h-4h-4h-4h-4h-4h-4v-4h-4v4h-4v-4h-4v4h-4h-4h-4h-4v-4h-4h-4v4h-4h-4v-4h-4h-4v4h-4h-4v-4h-4h-4v4h-4v-4h-4h-4h-4h-4h-4h-4h-4h-4h-4v4h-4h-4v-4h-4h-4h-4v4h-4v-4h-4h-4h-4h-4h-4h-4h-4h-4h-4h-4h-4h-4h-4h-4v-4h-4h-4h-4v4h-4v-4h-4h-4v4h-4v-8h-4v4h-4h-4h-4h-4v4h-4v-4h-4h-4h-4v-4h-4v4h-4h-4h-4h-4h-4v-4h-4v4h-4h-4v-4h-4v4h-4h-4v-4h-4h-4h-4v4h-4v-4h-4h-4h-4h-4v4h-4v-4h-4h-4h-4v4h-4v-8h-4v4h-4h-4h-4h-4h-4h-4h-4v-4h-4v4h-4h-4h-4h-4h-4v-4h-4v4h-4h-4h-4v-4h-4v-4h-4v4h-4v-4h-4h-4v4h-4h-4h-4h-4h-4v4h-4h-4v-4h-4h-4h-4v4h-4h-4h-4v-8h-4v4h-4h-4v-4h-4h-4v4h-4v-4h-4h-4v4h-4h-4h-4h-4v-4h-4v4h-4v-4h-4h-4h-4h-4h-4h-4v4h-4h-4v-4h-4h-4h-4v-4h-4v4h-4h-4v-4h-4h-4h-4v4h-4h-4v-8h-4v4h-4h-4v-4h-4v4h-4v-4h-4v-4h-4v8h-4h-4h-4v-4h-4h-4h-4h-4h-4v4h-4v-8h-4v8h-4v-4h-4h-4h-4h-4v-4h-4h-4h-4h-4h-4h-4h-4v-4h-4v4h-4v-4h-4h-4v4h-4v-4h-4h-4h-4v4h-4v-8h-4h-4h-4h-4h-4h-4h-4h-4h-4h-4v-4h-4h-4v-4h-4h-4h-4h-4h-4h-4v-4h-4h-4v4h-4v-8h-4h-4v-8h-4h-4h-4h-4h-4v-4h-4h-4v-8h-4h-4v4h-4v-4h-4h-4v-12h-4v4h-4v-4h-4v-4h-4v-4h-4h-4v-4h-4h-4h-4v-8h-4h-4v-8h-4v4h-4v-4h-4v-8h-4v-4h-4v4h-4v-8h-4v-4h-4v-4h-4v-8h-4h-4h-4v-12h-4v4h-4v-4h-4v-4h-4v-4h-4h-4h-4h-4v-12h-4h-4v-8h-4v-4h-4h-4h-4v-8h-4v8h-4v-8h-4v-8h-4v4h-4v-4h-4h-4v4h-4v-8h-4v-8h-4h-4v12h-4v-4h-4v-8h-4v4h-4h-4v4h-4v8h-4v-4h-4h-4v-4h-4v12h-4h-4h-4v-4h-4h-4v8h-4v8h-4v-4h-4h-4h-4v8h-4h-4v-8h-4v4h-4v4h-4v4h-4v-4h-4v4h-4v4h-4v4h-4h-4v4h-4h-4v4h-4v-4h-4h-4v4h-4h-4v4h-4h-4v4h-4v4h-4v8h-4v-4h-4h-4h-4v4h-4h-4v8h-4v4h-4v4h-4v4h-4v8h-4v-4h-4v4h-4v-4h-4v8h-4v4h-4h-4v4h-4h-4v4h-4v-4h-4v12h-4v-4h-4v12h-4v-4h-4h-4v8h-4v-4h-4v4h-4h-4v4h-4h-4h-4v4h-4h-4v-8h-4v12h-4h-4v-8h-4v4h-4h-4v-4h-4v4h-4v8h-4h-4v-4h-4v4h-4v4h-4h-4h-4h-4v-4h-4h-4h-4h-4v4h-4v4h-4h-4h-4h-4v-4h-4v4h-4v4h-4h-4h-4h-4v-4h-4z"/>
<path fill="#949494" d="M172 1240h4v-12h4v4h4v4h4h4h4h4v4h4h4h4v4h4v-4h4h4h4v4h4v-4h4h4v8h4v-4h4v-4h4v8h4h4v-4h4h4v4h4v-4h4v4h4v-4h4v-8h4h4v8h4h4h4h4v-4h4v-4h4h4h4v4h4h4h4v-12h4v4h4h4v-4h4h4v-12h4h4v8h4v-4h4v-4h4v-8h4h4h4h4v-4h4h4h4v-4h4h4h4v-4h4v-4h4v-4h4v-12h4v8h4h4v-8h4h4v-16h4h4v12h4v-8h4v4h4v-4h4h4h4v-4h4v-12h4h4v-4h4h4h4v4h4v-12h4h4v4h4h4v-4h4h4h4h4v-12h4h4v-4h4v-8h4h4v8h4v-4h4v-8h4h4v4h4v-8h4v4h4v-8h4h4v4h4v8h4h4h4v-8h4h4v4h4h4v8h4h4v4h4h4v4h4v-8h4h4h4v4h4v12h4v8h4v-4h4v-4h4h4v12h4v8h4v-4h4v4h4h4v4h4v8h4v8h4v-8h4v12h4v-4h4v8h4v4h4v4h4v-4h4v8h4v4h4h4v8h4h4h4v8h4h4v4h4v-4h4v8h4v4h4v-4h4v4h4h4v4h4h4v4h4h4v8h4v-4h4h4v4h4h4v4h4h4h4v-4h4v8h4v-4h4h4v4h4h4v-4h4h4v8h4v-8h4v4h4h4h4v4h4v8h4v-4h4h4h4v-4h4h4v4h4h4v4h4v4h4v-4h4v-4h4v4h4h4h4h4h4h4v-4h4v8h4v-4h4h4v-4h4v4h4h4h4h4v4h4h4h4h4h4v-4h4v8h4h4v-8h4v8h4v-4h4v4h4v-12h4h4v12h4h4h4h4h4h4v4h4v-4h4h4v4h4h4v-4h4h4v4h4v-4h4h4h4v4h4h4h4v-4h4h4v4h4h4h4h4v4h4h4h4h4v-8h4h4h4v8h4h4v-4h4h4h4v4h4v-4h4h4h4h4v4h4v-4h4v4h4h4h4h4h4h4v4h4v-4h4h4h4h4h4v4h4v-4h4v4h4v-8h4h4v8h4h4v-8h4v4h4h4v4h4h4h4v-4h4h4h4v4h4h4h4v-4h4h4h4h4h4h4h4v4h4h4h4v-4h4v-4h4v8h4v4h4v-4h4v4h4v-8h4v4h4h4h4h4v-4h4v8h4h4v-4h4v-4h4v8h4h4h4v-4h4h4v4h4v-8h4h4v4h4v4h4v-4h4h4v4h4h4v-4h4h4h4v-4h4h4v8h4h4v-4h4v4h4v-8h4h4v4h4h4v4h4h4h4h4v-4h4v4h4v-4h4h4v4h4v-4h4v8h4v-4h4v-4h4h4v-4h4v8h4h4h4v4h4v-4h4h4v-8h4v4h4v4h4h4h4v-8h4v8h4v-4h4h4v4h4h4v-4h4h4v4h4h4v-4h4v4h4v4h4v-8h4h4h4v4h4v-4h4h4v4h4v-8h4v8h4v-4h4v4h4h4v-4h4v4h4h4v-4h4h4v4h4h4v-4h4v4h4v-4h4h4v4h4h4h4v-4h4v8h4v-4h4h4h4v-4h4v4h4h4h4h4h4h4h4v-4h4h4v4h4h4h4h4h4h4v4h4v-12h4v4h4h4v4h4h4h4h4h4h4h4h4h4v4h4v-4h4h4h4h4h4h4v4h4h4v-4h4h4h4v4h4h4v-4h4h4v4h4v-8h4h4h4h4v8h4h4h4h4h4v4h4v-4h4h4h4h4v-4h4h4h4v8h4v-4h4h4v4h4v-4h4v-4h4h4h4h4v4h4v4h4v-12h4v8h4v-4h4h4v4h4v-4h4h4h4h4v4h4h4v4h4h4v-4h4h4h4v-4h4v4h4h4h4v4h4h4v-8h4v8h4V1304h-4v4h-4v-4h-4v4h-4h-4v-8h-4v4h-4v-4h-4v4h-4h-4h-4v-4h-4v4h-4v-4h-4v4h-4h-4h-4v-4h-4h-4h-4h-4h-4v4h-4v-4h-4v4h-4h-4h-4h-4v-4h-4v4h-4v-4h-4v4h-4v-4h-4v4h-4h-4v-4h-4v4h-4h-4v-4h-4v4h-4v-4h-4v4h-4h-4v4h-4v-4h-4h-4v-4h-4h-4v4h-4v-4h-4v-4h-4h-4v4h-4v4h-4h-4v-4h-4v-4h-4v4h-4h-4v-4h-4v4h-4h-4v-4h-4v4h-4h-4v-4h-4h-4h-4v4h-4v8h-4h-4v-12h-4h-4v4h-4h-4h-4h-4h-4h-4v8h-4h-4v-4h-4h-4h-4v-4h-4h-4h-4h-4h-4h-4h-4h-4h-4h-4v4h-4v-8h-4h-4v8h-4h-4v-4h-4v-4h-4h-4v8h-4h-4v-4h-4h-4h-4v4h-4v-8h-4v8h-4v-4h-4v-4h-4h-4h-4h-4h-4h-4h-4h-4h-4h-4v4h-4v-4h-4h-4h-4v4h-4h-4v4h-4v-8h-4h-4v4h-4h-4h-4v-4h-4v4h-4v-4h-4v4h-4h-4h-4v-4h-4v4h-4h-4h-4h-4v-4h-4h-4h-4v-4h-4v4h-4v4h-4v-4h-4h-4h-4v4h-4h-4v-4h-4h-4h-4v8h-4v-4h-4h-4h-4h-4v-4h-4h-4h-4v-4h-4v8h-4v-4h-4h-4v4h-4v-4h-4h-4v-4h-4v4h-4h-4h-4h-4h-4v4h-4v-4h-4h-4v4h-4v-4h-4h-4h-4v-4h-4v4h-4v-4h-4v4h-4h-4h-4h-4h-4h-4v-4h-4v4h-4h-4v4h-4h-4v-4h-4h-4h-4h-4h-4v4h-4v-4h-4v-4h-4v4h-4v-4h-4h-4h-4h-4v4h-4v-4h-4v4h-4v-4h-4h-4h-4v-4h-4h-4v4h-4v8h-4v-8h-4h-4h-4h-4h-4h-4v8h-4v-12h-4v8h-4v-4h-4v4h-4v-4h-4v-4h-4h-4v4h-4h-4h-4h-4v-4h-4h-4h-4h-4h-4v12h-4v-8h-4h-4v-4h-4v4h-4h-4h-4v-4h-4h-4h-4v4h-4v-4h-4v-4h-4v8h-4h-4h-4v4h-4h-4v-4h-4v-4h-4h-4v4h-4h-4v-8h-4v4h-4h-4h-4h-4h-4v-4h-4v4h-4h-4v8h-4v-4h-4v-8h-4v4h-4v-4h-4h-4h-4h-4h-4h-4v4h-4v4h-4v-4h-4v-8h-4v4h-4h-4v-4h-4h-4h-4h-4h-4v4h-4h-4h-4h-4v-4h-4h-4h-4h-4h-4v-4h-4v4h-4h-4v-4h-4h-4v-4h-4v8h-4v-4h-4h-4v4h-4h-4h-4v-4h-4v4h-4h-4v-4h-4h-4h-4v-4h-4v4h-4v-4h-4v4h-4h-4v-4h-4h-4v4h-4h-4h-4v-8h-4v4h-4v-4h-4v-4h-4v4h-4h-4h-4v-4h-4h-4h-4h-4v-4h-4h-4h-4v8h-4v-4h-4v-4h-4v-4h-4h-4h-4v-4h-4h-4h-4h-4h-4v-4h-4h-4v-4h-4v-4h-4v4h-4h-4v-8h-4h-4h-4h-4v-4h-4v-4h-4h-4v-4h-4h-4v-12h-4h-4h-4v-4h-4h-4v-4h-4v4h-4v-12h-4h-4v4h-4h-4v-20h-4h-4v-4h-4h-4v-8h-4v4h-4v-4h-4v-4h-4v-4h-4h-4v-4h-4h-4h-4v12h-4v-24h-4v4h-4v-4h-4v4h-4h-4h-4v-4h-4v-12h-4v8h-4v-16h-4h-4v12h-4v4h-4h-4v-12h-4v-4h-4v24h-4v-16h-4v4h-4h-4v-4h-4v4h-4h-4v4h-4v4h-4h-4v8h-4h-4v8h-4h-4v-8h-4v8h-4v-4h-4v4h-4v8h-4v-8h-4v12h-4h-4h-4v-12h-4v4h-4v12h-4v8h-4v4h-4h-4v-4h-4v8h-4v-4h-4v4h-4h-4v-4h-4v8h-4v4h-4v-4h-4v8h-4h-4v4h-4h-4v4h-4v4h-4h-4v4h-4v4h-4h-4v4h-4v-4h-4v4h-4v8h-4h-4v-8h-4v8h-4h-4v-4h-4v12h-4v-4h-4h-4v8h-4h-4h-4v-4h-4v8h-4v4h-4v4h-4h-4v-8h-4v8h-4h-4v4h-4h-4v-4h-4h-4v-4h-4v4h-4v4h-4v-4h-4v4h-4h-4h-4v8h-4v-8h-4h-4v4h-4h-4h-4v-4h-4v-4h-4v8h-4h-4v-4h-4v-4h-4h-4v-4h-4h-4v4h-4h-4v-4h-4v-4h-4h-4v-8h-4v8h-4h-4z"/>
<path fill="#989898" d="M172 1240h4v-4h4h4h4v4h4h4h4h4h4v4h4v4h4v-8h4h4h4v12h4v-4h4h4h4v-4h4v4h4h4v4h4v-4h4v-4h4v4h4h4h4v-4h4v-4h4h4v4h4h4h4h4h4v-4h4v-4h4v4h4h4v4h4v-4h4v-8h4h4h4v-4h4h4v-8h4v4h4h4v-4h4v-4h4h4h4v-4h4v-4h4v-4h4v4h4h4v-4h4v-4h4h4v-4h4h4v-4h4v-8h4h4h4v-8h4v4h4h4v-8h4h4h4h4v-4h4v-4h4h4v-4h4h4v-8h4h4v-8h4v4h4v4h4v-4h4v-8h4v4h4h4v-4h4v-4h4h4h4v-8h4v-4h4v4h4v-8h4h4h4h4v-4h4h4v-4h4h4h4h4h4v4h4h4h4v-4h4v-8h4v12h4v-4h4h4v4h4v4h4v4h4v-4h4v4h4h4h4v-4h4v12h4v4h4v4h4h4h4h4v4h4v12h4h4h4v4h4h4v8h4v8h4v-4h4v8h4h4v4h4h4v4h4h4v4h4v4h4v4h4v4h4v4h4v4h4v4h4v-4h4v8h4h4h4v8h4v-4h4v4h4h4v4h4h4h4v4h4v4h4v-4h4v4h4h4h4v4h4h4h4h4v4h4v-4h4v8h4v-4h4h4h4v4h4h4v-4h4v4h4v-4h4v4h4v4h4v4h4v-4h4h4v4h4v-4h4h4h4h4v8h4h4h4v-8h4v4h4v4h4v-4h4h4v4h4v-4h4h4v4h4v-4h4h4h4v4h4h4h4h4h4h4h4h4v4h4v-4h4v8h4v-4h4v-4h4v4h4h4h4h4v-4h4v8h4v-4h4h4v4h4h4h4h4v-4h4h4v4h4h4h4h4v4h4v-4h4h4h4h4h4h4v4h4h4h4v-4h4h4v4h4h4h4h4h4h4v-8h4v8h4v4h4v-4h4h4h4h4h4h4h4h4h4h4v4h4v-4h4h4h4h4v4h4h4h4h4h4v-4h4h4v4h4h4v-4h4v4h4v-8h4v8h4h4h4h4v-4h4v4h4h4v4h4v-4h4h4h4v-4h4v4h4h4v4h4v-4h4h4h4v-4h4v4h4h4h4h4v4h4v-4h4h4v4h4v-4h4v4h4v-4h4v4h4v-8h4v4h4h4h4h4h4v4h4v4h4v-8h4h4v4h4h4h4h4h4h4v-4h4h4v4h4v4h4v-4h4v-4h4v4h4h4v-4h4h4h4v4h4v-4h4v4h4h4v-4h4v4h4h4h4h4h4h4h4h4h4v-4h4v4h4v-4h4v4h4h4h4v4h4v-4h4v-4h4v4h4v-4h4v4h4v4h4v-4h4v4h4v-4h4h4v-4h4v4h4v4h4h4v-4h4h4h4h4v4h4v-4h4h4h4h4v4h4h4v-4h4h4v4h4v-4h4h4v-4h4v8h4v-4h4h4v4h4v-4h4v4h4v-4h4h4v4h4h4h4h4v-4h4h4v4h4h4h4h4v-8h4v4h4v4h4v-4h4h4h4v4h4h4v-4h4v4h4v-4h4h4h4h4v4h4v-4h4v4h4v-4h4v-4h4v4h4v4h4v-4h4h4h4h4v4h4h4v-4h4v4h4v-4h4v4h4v-4h4h4v4h4h4v-4h4h4h4v4h4h4h4h4v-4h4h4v4h4h4h4h4h4v-4h4h4v4h4h4h4h4h4h4v-4h4v4h4h4v4h4v-4h4h4h4h4v4h4v-4h4h4h4h4h4h4h4v4h4v-4h4h4v4h4h4h4h4v-4h4v-4h4v4h4v4h4v-4h4h4h4h4h4h4v4h4h4v-4h4h4h4v4h4h4h4v-4h4v4h4v-4h4h4h4h4v4h4h4h4h4V1304h-4v-4h-4v4h-4h-4v-4h-4h-4h-4h-4h-4v4h-4v-4h-4h-4h-4h-4h-4v4h-4v-4h-4h-4h-4v-4h-4v4h-4v-4h-4v4h-4h-4h-4h-4h-4v4h-4v-8h-4v4h-4h-4v4h-4v-8h-4v4h-4h-4h-4v4h-4v-4h-4v-4h-4v4h-4h-4h-4h-4v4h-4v-4h-4h-4v-4h-4v4h-4h-4h-4v-4h-4h-4v4h-4h-4v-4h-4h-4h-4h-4v4h-4v-4h-4v4h-4h-4v-4h-4v4h-4v-4h-4h-4h-4h-4h-4v8h-4h-4v-8h-4h-4v4h-4v-4h-4h-4h-4h-4h-4h-4v4h-4h-4v4h-4v-4h-4h-4v-4h-4v4h-4h-4v-4h-4h-4h-4h-4h-4h-4v-4h-4v4h-4h-4h-4v4h-4h-4v-4h-4h-4v4h-4h-4v-4h-4v4h-4v-4h-4h-4h-4h-4h-4h-4h-4h-4h-4h-4h-4h-4h-4h-4h-4h-4h-4v-4h-4v4h-4h-4h-4v8h-4v-8h-4h-4h-4v-4h-4v4h-4h-4h-4v-4h-4v4h-4v4h-4v-4h-4h-4h-4h-4v4h-4v-4h-4h-4h-4v-4h-4h-4h-4v4h-4h-4h-4h-4h-4v4h-4v-4h-4h-4h-4v4h-4v-4h-4h-4h-4h-4h-4h-4h-4v-4h-4v4h-4h-4v-4h-4v4h-4v-4h-4h-4h-4v4h-4h-4h-4v-4h-4v4h-4h-4h-4v-4h-4v4h-4v-4h-4h-4v4h-4v-4h-4h-4h-4v4h-4v-4h-4h-4v4h-4h-4v-4h-4h-4h-4v4h-4h-4h-4h-4h-4v-4h-4v4h-4v-4h-4v4h-4v-4h-4h-4v4h-4v-4h-4h-4h-4h-4h-4h-4h-4h-4h-4h-4v-4h-4h-4h-4v4h-4h-4h-4h-4h-4h-4h-4v-4h-4h-4v4h-4h-4v4h-4v-4h-4v-4h-4h-4v4h-4v-4h-4h-4h-4h-4h-4h-4h-4h-4v4h-4v-4h-4v4h-4v-4h-4h-4v4h-4v-4h-4h-4h-4h-4h-4v-4h-4h-4v4h-4h-4h-4v4h-4v-4h-4h-4h-4h-4v4h-4v-8h-4h-4v4h-4h-4v-4h-4v4h-4v-4h-4h-4h-4h-4v4h-4h-4v-4h-4h-4h-4h-4h-4h-4h-4h-4v-4h-4v8h-4h-4v-8h-4h-4h-4h-4h-4h-4h-4h-4v-4h-4v8h-4v-4h-4h-4h-4h-4v-4h-4v4h-4v-8h-4v4h-4v4h-4h-4v-8h-4h-4h-4v4h-4h-4v-4h-4v4h-4h-4h-4v-4h-4v4h-4h-4h-4h-4h-4v-4h-4h-4h-4v4h-4h-4v-4h-4h-4v4h-4v-8h-4h-4h-4h-4h-4v-4h-4h-4v4h-4v-4h-4h-4h-4v-4h-4h-4v-4h-4v4h-4h-4h-4h-4v-4h-4v-4h-4v4h-4h-4v-4h-4v-4h-4h-4v4h-4v-4h-4h-4v-4h-4h-4v-8h-4v8h-4v-4h-4v-4h-4h-4v-4h-4h-4v-4h-4h-4h-4v-4h-4h-4v-16h-4v4h-4v-4h-4v-4h-4h-4h-4v-4h-4v-8h-4v-4h-4v4h-4v-4h-4v-8h-4v-4h-4h-4v-4h-4v-4h-4v4h-4v-8h-4h-4v-8h-4v4h-4v-4h-4v-4h-4h-4h-4v-8h-4v4h-4v-4h-4v-12h-4v8h-4h-4h-4v-12h-4h-4v-4h-4h-4v8h-4v8h-4v-8h-4v-4h-4v-4h-4v4h-4h-4v8h-4v-4h-4h-4v4h-4h-4h-4v4h-4h-4v8h-4v4h-4h-4h-4v-4h-4v8h-4h-4h-4v4h-4h-4v8h-4v4h-4h-4v-16h-4v8h-4v8h-4v4h-4v8h-4h-4v-4h-4v8h-4v-4h-4h-4v4h-4h-4v4h-4v4h-4h-4v8h-4v-4h-4v4h-4v4h-4v4h-4h-4h-4v4h-4v4h-4v4h-4h-4v-4h-4v4h-4v8h-4h-4v-8h-4v8h-4v-4h-4v4h-4v4h-4h-4v4h-4h-4v4h-4v-4h-4v4h-4v4h-4v4h-4v4h-4v-4h-4h-4h-4v8h-4v-4h-4h-4h-4v4h-4v-4h-4h-4v8h-4v-8h-4h-4v8h-4v-4h-4v4h-4v-4h-4v4h-4h-4h-4h-4v-4h-4h-4v4h-4v-4h-4h-4v-4h-4v4h-4v-4h-4v-4h-4v4h-4v-4h-4h-4v-4h-4h-4v-4h-4v8h-4h-4z"/>
<path fill="#D87A80" d="M172 1420h4v4h4h4v4h4v-4h4h4v4h4h4v8h4v-8h4h4h4h4h4v4h4h4v4h4v-4h4h4h4h4v4h4h4h4v-4h4h4h4h4v-4h4h4v4h4v-4h4v4h4h4h4h4v-4h4v-4h4h4v4h4v-8h4v-4h4v8h4v-4h4v4h4v-4h4h4v4h4h4v-4h4h4v-4h4h4h4h4h4h4h4v-4h4h4v-8h4v4h4h4h4h4v4h4v-4h4v-4h4h4h4h4v-4h4h4h4h4v-8h4v4h4h4v-4h4h4v-8h4h4v-4h4h4v-4h4h4v-4h4v4h4v-8h4v-4h4h4v-4h4v-8h4v12h4v-12h4h4h4v-4h4h4v-8h4h4h4v-4h4h4v-4h4h4v-4h4v-8h4h4h4h4v8h4v-4h4v-4h4h4h4v4h4v4h4v4h4h4v-4h4h4v8h4h4v8h4h4v-4h4v8h4h4v4h4v8h4v-8h4v12h4v-4h4v12h4v-8h4v4h4h4v8h4v-4h4h4v4h4v4h4v4h4v-4h4v12h4h4h4h4h4v4h4h4v4h4v8h4v-4h4v4h4h4v8h4v-4h4v4h4v-4h4h4h4v-4h4v8h4h4h4v8h4v-4h4h4h4v8h4h4v-8h4h4v8h4v-4h4h4v4h4h4v4h4h4h4h4h4v4h4v-4h4v4h4v4h4v-4h4v-4h4h4v8h4h4v-4h4v4h4h4h4v-4h4v4h4h4h4v4h4v-4h4v4h4v-4h4h4h4v4h4h4h4v-4h4v4h4v-4h4h4v4h4h4h4v-4h4v8h4v-4h4v4h4v-8h4v8h4h4v-4h4h4v-8h4v16h4v-8h4v4h4v-4h4v8h4h4v-8h4v4h4h4v4h4v-4h4h4h4v4h4h4h4h4h4v-4h4h4v4h4v-4h4v4h4h4h4h4h4v4h4v-4h4h4h4h4h4v-4h4h4v4h4v-4h4v4h4v-4h4v8h4v-4h4h4v4h4v-8h4v4h4h4h4h4v4h4h4h4h4h4v-4h4h4h4h4h4v4h4v-4h4v4h4h4h4h4h4h4v-4h4v4h4v-4h4v4h4v-4h4h4v4h4h4h4h4h4h4v-4h4h4h4h4v4h4h4h4h4h4h4v-4h4h4h4v4h4h4h4v-4h4v4h4h4v-4h4h4v8h4v-4h4h4h4h4h4h4h4h4v4h4v-4h4h4h4h4h4v-4h4v4h4v-4h4h4v4h4v-4h4h4v4h4h4h4h4h4h4h4v4h4h4v-8h4v8h4v-4h4h4v4h4v-4h4h4v4h4v4h4v-8h4h4h4v4h4v-4h4h4v8h4v-4h4h4h4v-4h4h4h4v4h4v-4h4v-4h4v8h4h4h4h4h4v-4h4h4v8h4v-8h4v4h4h4h4h4v-4h4v4h4v-4h4h4h4v4h4h4h4h4h4v-4h4h4v4h4v4h4v-12h4h4v8h4v-4h4v4h4v-4h4v4h4h4v-4h4h4v4h4v-4h4h4h4h4v4h4v-4h4h4h4h4h4v4h4v-4h4v4h4v4h4v-4h4h4v-4h4v4h4h4v4h4h4v-4h4h4h4v-4h4h4v4h4v-8h4h4v12h4v-8h4v4h4h4h4h4h4h4v-4h4h4h4v4h4h4v-4h4v4h4h4h4h4h4h4h4h4h4v-4h4h4h4v4h4h4h4h4h4h4h4h4v4h4v-8h4v4h4h4v-4h4v8h4v-8h4h4v4h4h4h4h4h4h4h4h4v4h4v-4h4v-4h4h4v4h4v4h4v-4h4v-8h4v8h4h4h4v4h4v-4h4v4h4v-4h4h4h4v4h4h4h4v-4h4v4h4V1476h-4h-4h-4v4h-4v-4h-4h-4h-4h-4h-4v4h-4v-8h-4h-4h-4v4h-4v4h-4v-4h-4v4h-4v-4h-4h-4v-4h-4v4h-4h-4v4h-4h-4h-4v-8h-4h-4h-4v4h-4v-4h-4v4h-4v4h-4v-4h-4h-4v4h-4v-8h-4v4h-4h-4h-4h-4h-4v-8h-4v4h-4v4h-4h-4h-4h-4h-4v-8h-4v8h-4v-4h-4h-4h-4h-4v4h-4v-4h-4h-4h-4h-4h-4v4h-4v-4h-4v4h-4h-4h-4h-4v-4h-4h-4v4h-4h-4v-4h-4v4h-4v-4h-4h-4h-4v4h-4v-4h-4h-4h-4v4h-4h-4h-4h-4v-4h-4v4h-4h-4v4h-4v-4h-4h-4h-4h-4v-4h-4h-4h-4h-4v4h-4v-8h-4v4h-4h-4h-4h-4h-4h-4h-4h-4v4h-4v-4h-4h-4h-4v4h-4v-8h-4v4h-4h-4h-4v4h-4v-4h-4v4h-4h-4v-4h-4v4h-4h-4v-4h-4h-4h-4h-4h-4v8h-4v-8h-4h-4h-4v4h-4h-4v-4h-4v4h-4h-4v4h-4h-4v-8h-4h-4h-4h-4h-4h-4h-4h-4h-4h-4h-4h-4h-4v4h-4h-4h-4v-4h-4v4h-4h-4v-4h-4v4h-4h-4v-4h-4h-4v4h-4v-4h-4h-4v4h-4h-4v-4h-4h-4h-4h-4v4h-4v-4h-4v-4h-4v4h-4v4h-4v-4h-4h-4h-4v-4h-4v4h-4v-4h-4v4h-4h-4v-4h-4v4h-4h-4h-4v4h-4v-8h-4h-4h-4h-4v4h-4v-4h-4v4h-4h-4v-4h-4v-4h-4v4h-4h-4v4h-4h-4h-4v-4h-4v8h-4h-4v-4h-4v4h-4v-8h-4h-4h-4v4h-4h-4v-4h-4h-4h-4h-4v4h-4v-4h-4h-4h-4h-4v4h-4h-4v-4h-4h-4h-4h-4h-4v4h-4h-4h-4v-4h-4h-4h-4h-4h-4v4h-4v4h-4h-4v-8h-4v4h-4h-4v-4h-4h-4h-4v4h-4v-4h-4v4h-4v-4h-4h-4h-4h-4h-4v-4h-4v8h-4v-4h-4v4h-4h-4v-8h-4h-4v4h-4h-4v-4h-4v8h-4v-8h-4v4h-4h-4v-4h-4h-4h-4h-4v4h-4h-4h-4v-8h-4v4h-4h-4v-4h-4v4h-4v-4h-4v8h-4h-4v-4h-4v4h-4v-4h-4v-4h-4h-4h-4v4h-4h-4h-4h-4h-4v4h-4h-4v-4h-4v-4h-4v4h-4h-4v-4h-4h-4h-4h-4v4h-4h-4h-4h-4v-8h-4v8h-4v-8h-4v4h-4h-4h-4h-4v4h-4h-4h-4h-4v-4h-4h-4h-4v-4h-4v8h-4v-4h-4v-8h-4v8h-4v-4h-4h-4v-4h-4v4h-4h-4v-4h-4h-4h-4v8h-4v-12h-4v4h-4h-4v-4h-4h-4h-4h-4v-4h-4h-4v4h-4h-4v-8h-4v4h-4v-4h-4h-4h-4h-4v-4h-4h-4h-4h-4h-4h-4v-4h-4h-4v4h-4h-4v-8h-4h-4h-4v-4h-4h-4h-4v-8h-4v4h-4h-4v-4h-4v8h-4v-16h-4v4h-4h-4v-4h-4h-4v-8h-4v4h-4v-4h-4v-8h-4h-4h-4h-4v-4h-4v8h-4v-12h-4h-4v-8h-4h-4v-4h-4v-4h-4h-4v-4h-4v4h-4v-4h-4h-4v-4h-4h-4v-4h-4v-4h-4v4h-4h-4v-4h-4v-8h-4v4h-4h-4h-4h-4v8h-4h-4v-8h-4h-4v12h-4v-8h-4v12h-4v-4h-4h-4v8h-4h-4h-4v8h-4v-4h-4v4h-4h-4v-4h-4v4h-4h-4v4h-4v4h-4v8h-4h-4v12h-4h-4v-12h-4v4h-4v8h-4v4h-4h-4h-4v8h-4h-4v-4h-4v-8h-4v8h-4v4h-4h-4v-4h-4v8h-4h-4h-4v4h-4v-8h-4v8h-4h-4h-4v4h-4h-4h-4v-4h-4v4h-4h-4h-4v12h-4h-4v-4h-4v-4h-4h-4h-4h-4h-4v12h-4h-4h-4v-8h-4v8h-4h-4v-4h-4h-4h-4h-4v4h-4v-4h-4v4h-4v4h-4h-4h-4h-4v-4h-4h-4v8h-4v-4h-4v-4h-4v12h-4v-8h-4h-4v4h-4h-4h-4v-4h-4v4h-4h-4h-4h-4h-4v-4h-4h-4h-4v4h-4h-4v-4h-4h-4h-4v-4h-4h-4v8h-4v-12h-4h-4h-4h-4z"/>
<path fill="#FF6969" d="M172 1428h4v-4h4v4h4v4h4v-4h4v4h4v-4h4v4h4v4h4v-4h4h4h4h4h4v4h4h4h4v4h4v-8h4v4h4h4h4h4h4h4v-4h4v4h4h4v-8h4v4h4h4h4h4v4h4v-4h4h4v-4h4h4h4v4h4h4v-8h4v4h4h4v-4h4h4v-4h4v8h4v-4h4v-4h4h4h4h4h4v-4h4h4v4h4v-4h4v-4h4h4h4h4v-4h4h4v4h4h4h4v-4h4h4h4h4v-8h4h4v4h4v-4h4v-8h4v8h4v-4h4h4v-4h4h4h4v-8h4h4v-4h4v-4h4h4h4v-4h4v-4h4h4v-4h4v-8h4v8h4v-8h4h4v4h4v-8h4h4v-4h4v-4h4v-4h4v-4h4v4h4v-4h4v-4h4h4v-4h4h4h4v-4h4v4h4h4h4h4v-4h4v4h4v8h4v-4h4v8h4v-4h4h4v8h4h4h4h4v4h4h4h4v8h4v4h4h4v8h4h4v8h4v-8h4v4h4v4h4h4v-4h4v12h4v-4h4v4h4v4h4h4v8h4v-4h4h4h4h4v8h4h4v4h4v4h4h4v4h4v-4h4v8h4h4h4v4h4h4v-4h4h4v4h4h4v4h4h4h4v-4h4v8h4h4h4h4v-4h4v4h4h4h4h4v4h4h4h4v4h4h4v-4h4v4h4v4h4h4h4h4v-8h4v8h4h4v4h4v-4h4h4h4h4h4h4v4h4h4h4v-4h4v4h4h4h4h4h4v4h4h4v-4h4v4h4v-4h4h4v4h4v-4h4v4h4v-4h4v4h4h4v4h4v-4h4v4h4v-4h4h4v4h4v-4h4v8h4v-4h4h4v-4h4v4h4v4h4v-8h4h4v4h4h4h4v-4h4h4v4h4h4h4h4h4h4h4h4h4h4h4h4h4h4v4h4v-4h4h4h4h4v4h4v-4h4h4h4v-4h4v8h4v-4h4v4h4v-4h4v4h4h4h4v-4h4h4h4h4v4h4h4h4h4v4h4v-4h4v-4h4h4v4h4v-4h4v4h4h4h4h4v4h4v-4h4h4h4h4h4h4h4h4h4v4h4v-4h4v4h4v-4h4v4h4v-4h4h4h4v-4h4v4h4v4h4v-4h4h4h4h4h4h4h4h4h4h4h4h4v4h4v-4h4h4h4v4h4v-4h4h4v4h4v-4h4h4v4h4h4h4h4h4h4h4h4v-4h4v-4h4v4h4h4v4h4h4h4v-4h4h4v4h4h4h4v-4h4v4h4v-4h4v4h4h4h4v4h4v-4h4h4h4h4v4h4h4h4v-4h4h4v-4h4v4h4h4h4v4h4v-4h4h4h4h4h4h4h4v4h4v-4h4v4h4v-4h4h4h4h4h4h4v4h4v-4h4h4h4h4v4h4v-4h4h4h4h4h4h4h4h4h4v4h4v-4h4h4h4v4h4h4v-4h4h4h4v4h4v-4h4h4v4h4v-8h4v4h4h4h4h4h4h4h4h4v4h4v-4h4h4h4h4h4v4h4h4v-4h4h4h4h4v4h4h4h4v-4h4h4h4h4h4h4h4h4v4h4v-4h4h4v4h4v-4h4h4h4v4h4v-4h4h4h4h4h4h4h4h4h4v4h4h4v-4h4v4h4v-4h4h4h4h4v-4h4v8h4v-4h4h4h4h4h4h4v4h4v4h4v-8h4h4v4h4h4h4v-4h4h4h4h4h4h4h4v4h4v-4h4h4v4h4h4v-4h4h4v4h4h4h4h4h4v-4h4h4v4h4h4h4v-4h4v4h4h4h4h4h4h4h4V1476h-4v-4h-4v4h-4h-4v-4h-4v4h-4h-4h-4h-4h-4v-4h-4h-4h-4v4h-4h-4v-4h-4v4h-4h-4h-4v-4h-4h-4v4h-4v-4h-4v4h-4h-4v-8h-4v4h-4h-4h-4h-4h-4v4h-4h-4v-4h-4h-4v-4h-4v4h-4v4h-4v-4h-4v4h-4h-4v-8h-4v4h-4h-4v4h-4v-4h-4v4h-4v-4h-4v-4h-4v8h-4v-4h-4h-4h-4h-4h-4h-4h-4v-4h-4v4h-4h-4h-4v-4h-4v4h-4v4h-4h-4v-4h-4h-4h-4h-4h-4h-4v4h-4v-4h-4v-4h-4h-4v4h-4h-4h-4h-4h-4v4h-4h-4v-4h-4v-4h-4v8h-4v-4h-4h-4h-4v4h-4h-4v-4h-4h-4h-4v-4h-4v4h-4h-4v-4h-4h-4v4h-4h-4h-4v-4h-4v4h-4v-4h-4v4h-4h-4h-4h-4h-4v4h-4v-8h-4v4h-4h-4v-4h-4v4h-4h-4v4h-4v-4h-4h-4h-4h-4v-4h-4v4h-4h-4v-4h-4v4h-4h-4h-4h-4h-4h-4h-4h-4h-4h-4v-4h-4v4h-4h-4h-4h-4h-4h-4h-4h-4h-4v-4h-4v4h-4v-4h-4v4h-4h-4h-4v4h-4v-4h-4v-4h-4v4h-4h-4h-4h-4h-4h-4h-4h-4h-4h-4h-4v4h-4v-4h-4v-4h-4h-4v4h-4h-4h-4v-4h-4h-4v4h-4v-4h-4h-4h-4h-4h-4h-4h-4v4h-4v-4h-4v4h-4h-4v-4h-4h-4h-4h-4h-4h-4h-4h-4h-4h-4h-4v-4h-4v4h-4h-4h-4v4h-4h-4v-4h-4v4h-4v4h-4v-8h-4v4h-4v-4h-4h-4h-4h-4h-4h-4h-4h-4v-4h-4v8h-4v-4h-4h-4h-4h-4h-4h-4h-4h-4h-4v-4h-4h-4v4h-4v4h-4v-4h-4h-4h-4h-4h-4v-4h-4h-4v4h-4h-4v-4h-4v4h-4v4h-4v-4h-4v-4h-4h-4v4h-4v-4h-4v8h-4v-4h-4h-4h-4v-4h-4h-4h-4h-4v4h-4h-4h-4v-4h-4h-4v4h-4v-4h-4v-4h-4v4h-4v-4h-4v8h-4v-4h-4h-4h-4h-4h-4h-4v4h-4h-4v-8h-4v4h-4h-4v-4h-4v4h-4v-4h-4h-4h-4h-4h-4v4h-4v-4h-4h-4h-4v4h-4v-4h-4h-4v4h-4h-4h-4v-4h-4h-4h-4h-4h-4v-4h-4v4h-4h-4v-4h-4h-4h-4h-4v-4h-4h-4v8h-4v-4h-4h-4v4h-4v-4h-4v-4h-4v12h-4h-4h-4v-4h-4v-4h-4h-4h-4h-4h-4v-4h-4h-4v4h-4h-4h-4v-8h-4v8h-4v-4h-4v-4h-4v4h-4v-4h-4v8h-4v-12h-4v4h-4h-4h-4h-4v-4h-4h-4v-4h-4v4h-4h-4v4h-4v-8h-4v4h-4v-4h-4v-4h-4v4h-4v-4h-4h-4h-4h-4v-4h-4v4h-4v-4h-4v-4h-4h-4v4h-4h-4v-8h-4v4h-4v-4h-4v-4h-4h-4v-4h-4h-4v-4h-4v4h-4v-4h-4v4h-4v-8h-4v-4h-4v8h-4v-4h-4v-8h-4h-4h-4v-4h-4v-8h-4v4h-4h-4v-4h-4h-4h-4v-4h-4h-4v-12h-4v4h-4v-4h-4v-4h-4h-4v-8h-4h-4v-8h-4v8h-4h-4v-12h-4v8h-4v-8h-4v8h-4h-4v-12h-4h-4h-4h-4h-4h-4h-4h-4h-4h-4v4h-4h-4v8h-4h-4v4h-4h-4v4h-4h-4v4h-4h-4v4h-4h-4h-4v4h-4h-4v4h-4h-4h-4v8h-4h-4v8h-4v-4h-4h-4v8h-4v4h-4h-4h-4v4h-4v4h-4h-4v-8h-4v8h-4h-4h-4h-4h-4v4h-4h-4v4h-4v-4h-4v4h-4v4h-4v-4h-4h-4v4h-4h-4h-4v4h-4h-4h-4v4h-4v4h-4v-4h-4v-4h-4v4h-4h-4h-4h-4v4h-4h-4h-4h-4v4h-4h-4v-4h-4v4h-4h-4h-4h-4h-4h-4v8h-4h-4h-4v-4h-4h-4h-4v4h-4h-4v-4h-4v8h-4v-4h-4h-4h-4h-4h-4h-4v-4h-4v4h-4h-4h-4v-4h-4v4h-4v-4h-4v4h-4h-4h-4v-4h-4v4h-4v-4h-4v-4h-4h-4h-4h-4h-4h-4v-4h-4z"/>
<path fill="#7890A8" d="M172 1604h4v4h4h4v8h4v-4h4h4v4h4v-8h4v8h4v-4h4v-4h4h4v8h4v-4h4v4h4v-4h4v4h4v-4h4v4h4v-4h4v4h4h4h4h4v-8h4h4h4v4h4v-4h4h4v-4h4v4h4h4h4h4v-4h4v4h4v-8h4v4h4v-4h4v-4h4h4v-4h4v4h4v-4h4h4v4h4v-4h4h4v-8h4v-4h4h4h4v-4h4v4h4v-4h4v-4h4v4h4v-8h4h4v-4h4h4h4v-4h4h4v-8h4h4v8h4v-12h4v8h4v-12h4v8h4v-4h4v-4h4h4v-4h4h4v-8h4h4v4h4h4h4v-4h4v-8h4v12h4v-8h4h4v-12h4h4v8h4v-8h4h4h4h4v-4h4v-4h4v-4h4h4v8h4v-8h4v4h4v-4h4v4h4v-4h4h4v-4h4v8h4v-8h4h4v4h4v4h4v-12h4v4h4v4h4h4v-4h4h4v8h4v-4h4v8h4v4h4h4h4h4v8h4v-8h4v12h4h4v4h4v4h4v4h4h4v12h4v-4h4v4h4v4h4v4h4h4v4h4h4h4v4h4h4v4h4v4h4h4v4h4h4h4h4v4h4v8h4h4h4v4h4v-4h4v8h4v4h4v-4h4h4v4h4v-4h4v4h4h4h4v4h4v-4h4h4h4v4h4v4h4v-4h4v4h4v-4h4v8h4h4h4h4h4h4v8h4v-4h4h4h4v4h4v-4h4v4h4h4h4h4h4h4v4h4v-4h4h4h4v8h4v-4h4h4v-4h4v8h4h4v-4h4h4v4h4h4h4h4h4v-4h4v4h4h4v4h4v-4h4h4v8h4h4v-4h4h4v-4h4v8h4v-4h4h4h4h4h4h4v-4h4h4v8h4h4h4v-4h4h4h4v4h4v-8h4v4h4h4v4h4v-4h4v-4h4h4v8h4h4h4h4h4h4h4h4h4h4h4h4v4h4v4h4v-8h4v4h4v-4h4h4v-4h4h4v4h4v4h4h4v-4h4h4h4h4h4h4v4h4h4h4h4v-4h4h4v4h4v-4h4v4h4v-4h4h4v4h4h4v-4h4v4h4h4h4h4v-4h4v4h4v4h4h4h4v-8h4v4h4v4h4v-4h4v4h4v-4h4h4h4v4h4h4v-4h4h4v4h4v-4h4h4h4v4h4h4h4h4h4h4v4h4h4h4h4h4h4h4v-4h4v4h4v-4h4v-4h4h4v8h4v-4h4h4v4h4v-4h4h4h4h4h4h4v4h4v-4h4v4h4v-4h4h4v4h4v-4h4h4h4v4h4h4h4h4h4h4v-4h4v4h4h4v-4h4h4v4h4h4v-4h4h4h4h4h4v4h4v4h4v-8h4h4v4h4h4h4v-4h4v4h4h4v-4h4h4v8h4v-4h4h4h4h4h4h4h4v-4h4v4h4h4h4v-4h4v4h4h4v-4h4h4v8h4v-4h4v-4h4h4v4h4h4v4h4v-4h4h4h4h4v4h4v-4h4h4h4h4h4h4h4v4h4v-8h4h4h4v4h4h4v4h4v-4h4h4h4h4h4v-4h4v4h4v4h4v-4h4h4v-4h4v4h4h4v4h4v-4h4v-4h4v4h4v-4h4h4v8h4v-8h4h4h4h4h4h4v4h4h4v-4h4h4v4h4h4h4v-4h4h4v4h4h4h4v-8h4v4h4v4h4v-8h4h4h4v8h4h4h4h4h4h4h4h4h4v4h4v-4h4v-4h4h4v4h4v-4h4v4h4h4h4v-4h4v4h4h4h4h4h4h4v-4h4v4h4v-4h4v4h4h4v4h4h4v-4h4h4h4h4v4h4v-8h4h4h4v4h4h4h4v-4h4v4h4h4v4h4v-4h4v4h4h4v-4h4h4h4v-4h4v8h4h4h4V1668h-4h-4h-4v-4h-4v4h-4h-4v-4h-4v4h-4v4h-4v-4h-4v4h-4h-4v-8h-4v4h-4v-4h-4h-4v8h-4v-8h-4v4h-4v-4h-4v4h-4h-4v4h-4v-8h-4h-4v4h-4v-4h-4h-4h-4h-4h-4v4h-4v-4h-4v4h-4v-4h-4v4h-4h-4h-4v-4h-4v4h-4h-4h-4h-4v-4h-4v8h-4v-8h-4h-4v4h-4v-4h-4v-4h-4v4h-4v8h-4h-4v-4h-4h-4v-4h-4h-4v4h-4h-4h-4v-4h-4v4h-4v-4h-4h-4v4h-4v-4h-4h-4h-4h-4v4h-4h-4v-4h-4h-4v4h-4v4h-4v-4h-4v-4h-4h-4h-4v4h-4v8h-4v-12h-4v4h-4v-4h-4v4h-4v-4h-4h-4h-4h-4v4h-4v4h-4v-4h-4h-4h-4h-4h-4h-4h-4h-4h-4v4h-4h-4h-4v-8h-4h-4v4h-4v4h-4h-4h-4v-4h-4h-4v-4h-4v4h-4h-4h-4v-4h-4v4h-4h-4v-4h-4h-4h-4h-4v4h-4h-4h-4v-4h-4v4h-4v-4h-4h-4v4h-4h-4h-4h-4h-4h-4h-4h-4h-4h-4v-4h-4h-4h-4h-4h-4h-4h-4v4h-4v-4h-4v4h-4v-4h-4h-4h-4h-4h-4h-4v4h-4h-4h-4v-4h-4v4h-4h-4h-4v-4h-4h-4h-4h-4v4h-4v-4h-4h-4h-4v4h-4v-4h-4h-4v4h-4v-4h-4h-4h-4v4h-4v-4h-4h-4h-4h-4h-4h-4v-4h-4v4h-4h-4h-4h-4h-4h-4v4h-4v-4h-4h-4h-4h-4h-4v4h-4h-4v-4h-4h-4h-4v-4h-4v4h-4h-4h-4v-4h-4v4h-4v-4h-4v4h-4v-4h-4h-4h-4h-4v4h-4v-4h-4h-4h-4v4h-4v-8h-4v4h-4h-4h-4h-4h-4h-4h-4h-4v4h-4v-4h-4v4h-4v-4h-4h-4h-4h-4h-4h-4h-4v-4h-4v4h-4h-4h-4h-4v-4h-4h-4h-4v4h-4h-4v4h-4v-4h-4v-8h-4v4h-4h-4h-4v4h-4v-4h-4h-4v4h-4h-4v4h-4h-4v-8h-4v4h-4v-4h-4h-4h-4h-4h-4h-4v4h-4v-4h-4h-4h-4v-4h-4h-4h-4v4h-4v-4h-4v4h-4h-4v-4h-4h-4v8h-4v-8h-4v4h-4v-4h-4h-4h-4h-4h-4h-4v-4h-4v8h-4v-4h-4h-4h-4v4h-4h-4h-4v-4h-4h-4h-4h-4h-4v4h-4h-4v-4h-4h-4v-4h-4h-4h-4h-4h-4h-4h-4h-4v4h-4v-8h-4h-4h-4h-4h-4v4h-4v-8h-4v4h-4h-4h-4h-4v-4h-4h-4v8h-4v-8h-4h-4h-4v8h-4h-4v-12h-4h-4v-4h-4h-4v4h-4h-4h-4v-4h-4h-4v8h-4h-4v-12h-4v4h-4v-4h-4h-4h-4h-4h-4v-4h-4v4h-4h-4v-8h-4h-4v4h-4v4h-4h-4v-12h-4h-4v4h-4h-4h-4h-4v-12h-4v4h-4h-4v-12h-4h-4v-4h-4h-4v4h-4v-8h-4v-4h-4v4h-4h-4v4h-4v-12h-4h-4h-4v-4h-4v-4h-4h-4v-4h-4v-4h-4v-4h-4h-4h-4v-8h-4v4h-4v-8h-4v4h-4v-8h-4h-4h-4v-8h-4v-4h-4v8h-4v-16h-4h-4v-4h-4v-4h-4v4h-4h-4h-4h-4h-4h-4v-4h-4v8h-4v-4h-4v4h-4v-4h-4v8h-4v-8h-4v12h-4v-8h-4v4h-4h-4v-4h-4v-4h-4v8h-4v4h-4h-4v-4h-4v8h-4v-4h-4v12h-4h-4h-4h-4v-4h-4v8h-4h-4v-4h-4v4h-4v4h-4h-4h-4h-4v4h-4h-4v4h-4h-4h-4v4h-4h-4v12h-4h-4v-4h-4h-4h-4h-4v8h-4v-4h-4h-4h-4v8h-4v8h-4v-4h-4h-4h-4v4h-4h-4h-4h-4v8h-4h-4h-4v4h-4v4h-4v-4h-4h-4h-4v8h-4v-4h-4v4h-4h-4v8h-4h-4v-4h-4v4h-4h-4h-4h-4h-4v-4h-4v12h-4v-12h-4v4h-4v8h-4h-4h-4h-4h-4v-4h-4v8h-4v-4h-4h-4v-4h-4h-4v4h-4v-4h-4v4h-4h-4h-4h-4v-4h-4v4h-4v4h-4v-4h-4v8h-4v-8h-4v-4h-4h-4h-4h-4h-4z"/>
<path fill="#5096C3" d="M172 1608h4h4h4v8h4v-4h4h4v4h4h4h4v4h4v-8h4v4h4h4h4h4h4h4h4h4h4h4h4h4v4h4v-4h4v-4h4h4h4h4v-4h4v4h4h4h4v-4h4h4h4v4h4v-8h4h4v-4h4h4h4h4h4v-4h4h4h4h4v-4h4v-4h4v-4h4v-4h4h4h4h4h4v-4h4h4v-4h4v-4h4h4h4h4v-8h4h4h4h4v4h4v-12h4v8h4v-4h4h4v-8h4h4h4h4v-8h4v-4h4h4v4h4h4v-4h4h4h4h4v-8h4h4v-4h4h4v4h4v-8h4h4v-4h4v4h4v-8h4h4v-4h4v4h4h4h4h4v-4h4h4h4h4h4h4v-4h4v4h4h4h4v-8h4v4h4h4v4h4h4h4h4h4v4h4v4h4h4h4h4v12h4h4v4h4v-4h4v4h4v4h4v4h4v4h4v8h4h4h4v4h4v8h4h4h4v4h4h4h4v4h4h4v4h4h4v4h4h4h4v4h4v4h4v4h4v4h4h4v4h4v-4h4v8h4h4v-4h4v4h4v4h4v-4h4v4h4v-4h4v4h4h4h4h4h4h4v8h4v-4h4v4h4h4h4v4h4h4h4h4h4v4h4h4h4v-4h4v4h4v-4h4v8h4v-4h4v4h4v-4h4v4h4h4h4h4h4h4v4h4h4h4v-4h4v4h4h4h4h4h4v4h4h4h4h4h4v-4h4h4v4h4v-4h4v8h4h4h4v-4h4h4v4h4h4v-4h4h4v4h4v-4h4v4h4h4v-4h4h4v4h4h4h4h4h4h4h4v-4h4v4h4h4h4v-4h4h4v8h4v-4h4h4h4h4v4h4v-4h4h4v4h4h4h4h4h4h4v4h4v-4h4v4h4v-8h4h4v4h4v-4h4v4h4h4v4h4v-8h4v4h4h4h4v-4h4v4h4h4h4h4h4h4h4h4h4v4h4v-8h4v4h4h4h4h4v4h4h4v-4h4h4h4h4v4h4h4h4h4h4h4h4h4h4h4h4h4v4h4v-8h4v4h4v4h4v-4h4v-4h4v4h4h4v4h4v-4h4h4h4h4v4h4h4h4h4h4h4v4h4v-4h4h4h4h4h4h4v-4h4v4h4h4h4h4v-4h4h4v4h4h4h4h4h4h4h4h4h4v-4h4v4h4h4h4h4h4h4v4h4h4v-4h4h4h4v4h4v-4h4h4h4h4h4h4h4v4h4h4h4v-8h4v4h4h4h4v4h4v-4h4h4v4h4v-8h4v8h4v-4h4v4h4h4h4h4h4v-4h4v-4h4v4h4h4h4v4h4h4v-4h4h4v4h4h4v-4h4v4h4h4v-4h4v4h4h4v-4h4h4h4v4h4h4v-4h4h4h4h4h4v4h4v-4h4v4h4v-4h4h4h4v4h4v-4h4v4h4v-4h4h4v4h4h4h4v-8h4v8h4h4h4v-4h4h4v4h4h4h4v-4h4h4v4h4v-4h4h4v4h4v-8h4v4h4v-4h4v8h4v-4h4v-4h4v8h4v-4h4h4h4v4h4v-4h4h4h4h4h4h4v4h4v-8h4v8h4h4v-4h4v-8h4v8h4v4h4v-4h4h4v4h4h4v-4h4h4h4h4v8h4v-8h4v-4h4v4h4v4h4v-4h4h4h4h4h4h4h4h4h4h4h4h4h4h4h4h4v4h4h4h4v-4h4h4v4h4h4v-4h4h4h4v4h4v-4h4h4h4v4h4v-4h4v4h4h4h4h4h4h4v-4h4h4v4h4h4h4V1668h-4v-4h-4v4h-4v-4h-4h-4v4h-4v-4h-4h-4h-4v4h-4h-4h-4v-4h-4h-4h-4h-4h-4h-4h-4h-4h-4v4h-4h-4v-4h-4h-4h-4h-4v-4h-4v4h-4h-4h-4h-4h-4h-4h-4h-4v4h-4v-4h-4h-4h-4h-4h-4h-4v-4h-4v4h-4h-4h-4v4h-4v-4h-4v-4h-4v4h-4h-4h-4v4h-4v-8h-4v4h-4h-4h-4v4h-4v-4h-4h-4h-4h-4h-4h-4h-4h-4h-4h-4h-4h-4h-4v-4h-4v4h-4v4h-4v-4h-4h-4h-4h-4h-4v4h-4v-4h-4h-4h-4h-4h-4h-4h-4h-4h-4v-4h-4v4h-4h-4v4h-4h-4h-4v-4h-4h-4h-4h-4h-4v4h-4v-4h-4h-4h-4h-4v4h-4h-4v-8h-4v4h-4v4h-4v-4h-4v-4h-4h-4v4h-4h-4h-4h-4h-4h-4h-4h-4v4h-4h-4v-4h-4h-4h-4h-4h-4h-4h-4h-4h-4h-4h-4v4h-4v-4h-4v4h-4v-4h-4h-4v-4h-4v4h-4h-4h-4h-4h-4h-4h-4h-4v-4h-4v4h-4h-4h-4v-4h-4v4h-4h-4h-4v-4h-4v4h-4h-4v4h-4v-4h-4h-4v-4h-4h-4v4h-4h-4h-4h-4v-4h-4v4h-4v-4h-4v4h-4h-4v-4h-4h-4v4h-4h-4h-4h-4h-4v-4h-4h-4h-4h-4h-4v4h-4h-4v-4h-4h-4h-4v4h-4h-4v-4h-4h-4h-4h-4v4h-4v4h-4v-8h-4v4h-4v-4h-4h-4v4h-4h-4v-4h-4h-4h-4h-4h-4h-4h-4v-4h-4v4h-4h-4h-4h-4h-4h-4v-4h-4h-4v4h-4v-4h-4v4h-4h-4h-4h-4v-4h-4h-4v4h-4h-4h-4h-4v-4h-4h-4h-4h-4h-4h-4v4h-4v-4h-4v4h-4v-4h-4h-4h-4h-4h-4h-4v4h-4v-4h-4v-4h-4v4h-4h-4v-4h-4h-4h-4v4h-4v4h-4v-8h-4v8h-4v-4h-4v-4h-4v4h-4h-4h-4h-4v-4h-4h-4v4h-4h-4h-4h-4v-4h-4h-4h-4h-4h-4h-4v4h-4h-4v-4h-4h-4h-4h-4h-4h-4h-4h-4h-4v-4h-4h-4h-4v4h-4h-4h-4h-4h-4v4h-4v-4h-4h-4v-4h-4v4h-4h-4h-4h-4h-4v-4h-4h-4h-4h-4h-4h-4h-4h-4h-4h-4v4h-4v-8h-4h-4h-4h-4h-4h-4v-4h-4v4h-4v-4h-4h-4v-4h-4h-4v4h-4v4h-4v-4h-4v-4h-4h-4v4h-4h-4v-8h-4h-4v-4h-4v4h-4h-4v4h-4v-4h-4h-4h-4v-4h-4v8h-4v-8h-4h-4h-4v-4h-4v4h-4h-4h-4v-4h-4v4h-4v-8h-4h-4h-4h-4h-4v-4h-4h-4h-4h-4v4h-4v-12h-4v4h-4v-4h-4v-4h-4v4h-4v-8h-4h-4v-4h-4h-4h-4v-8h-4h-4h-4v-4h-4v8h-4v-16h-4v4h-4h-4v-4h-4h-4v-4h-4v-8h-4h-4h-4v-4h-4v-4h-4h-4v-8h-4v4h-4v-8h-4v4h-4h-4v-12h-4v4h-4v-8h-4h-4v-8h-4h-4h-4v-8h-4v4h-4h-4v-4h-4v8h-4v-4h-4h-4v-4h-4v4h-4v4h-4h-4h-4v8h-4v-8h-4v8h-4v-12h-4v12h-4v-8h-4h-4v-4h-4v8h-4h-4v4h-4h-4v8h-4v-4h-4v4h-4h-4v8h-4v-8h-4h-4v8h-4h-4v-4h-4v8h-4h-4h-4v4h-4h-4h-4v4h-4h-4h-4v4h-4h-4v4h-4h-4v4h-4h-4v4h-4v-4h-4v4h-4v4h-4v-4h-4v4h-4h-4v4h-4h-4v4h-4h-4h-4v4h-4v-4h-4v8h-4h-4v4h-4v4h-4h-4h-4v4h-4h-4v-4h-4v4h-4v4h-4h-4h-4v4h-4h-4h-4h-4v8h-4h-4h-4h-4v-4h-4h-4v8h-4v-8h-4v4h-4v4h-4v-4h-4v8h-4h-4v-4h-4h-4h-4h-4h-4v-4h-4v4h-4h-4h-4v4h-4v-4h-4h-4h-4h-4v4h-4v-4h-4h-4h-4h-4h-4v-4h-4h-4v4h-4h-4z"/>
</g>
<g fill="#000">
<rect x="164" y="29" width="2104" height="8"/>
<rect x="164" y="1715" width="2104" height="8"/>
<rect x="164" y="29" width="8" height="1694"/>
<rect x="2260" y="29" width="8" height="1694"/>
<rect x="304" y="1687" width="8" height="30"/><rect x="588" y="1687" width="8" height="30"/><rect x="872" y="1687" width="8" height="30"/><rect x="1156" y="1687" width="8" height="30"/><rect x="1440" y="1687" width="8" height="30"/><rect x="1724" y="1687" width="8" height="30"/><rect x="2008" y="1687" width="8" height="30"/><rect x="448" y="1703" width="8" height="14"/><rect x="732" y="1703" width="8" height="14"/><rect x="1016" y="1703" width="8" height="14"/><rect x="1298" y="1703" width="8" height="14"/><rect x="1580" y="1703" width="8" height="14"/><rect x="1864" y="1703" width="8" height="14"/><rect x="2148" y="1703" width="8" height="14"/>
</g>
<g fill="#000" font-family="Liberation Serif, 'Times New Roman', serif" font-weight="bold" font-size="88" stroke="#fff" stroke-width="2" stroke-linejoin="round">
<text x="308" y="1818" text-anchor="middle">10</text><text x="592" y="1818" text-anchor="middle">20</text><text x="876" y="1818" text-anchor="middle">30</text><text x="1160" y="1818" text-anchor="middle">40</text><text x="1444" y="1818" text-anchor="middle">50</text><text x="1728" y="1818" text-anchor="middle">60</text><text x="2012" y="1818" text-anchor="middle">70</text>
<text x="908.5" y="1922">2 Theta (degree)</text>
<text transform="translate(91 1311.5) rotate(-90)">Relative Intensity (a.u.)</text>
</g>
<g fill="#000" font-family="Liberation Serif, 'Times New Roman', serif" font-weight="bold" font-size="72" stroke="#fff" stroke-width="1.6" stroke-linejoin="round">
<text x="1947.5" y="372">PI-1</text><text x="1947.5" y="547.5">PI-1/1%</text><text x="1947.5" y="722.6">PI-1/3%</text><text x="1947.5" y="898">PI-1/5%</text><text x="1947.5" y="1083">PI-2</text><text x="1947.5" y="1258">PI-2/1%</text><text x="1947.5" y="1426">PI-2/3%</text><text x="1947.5" y="1621">PI-2/5%</text>
</g>
</svg>
</body></html>
